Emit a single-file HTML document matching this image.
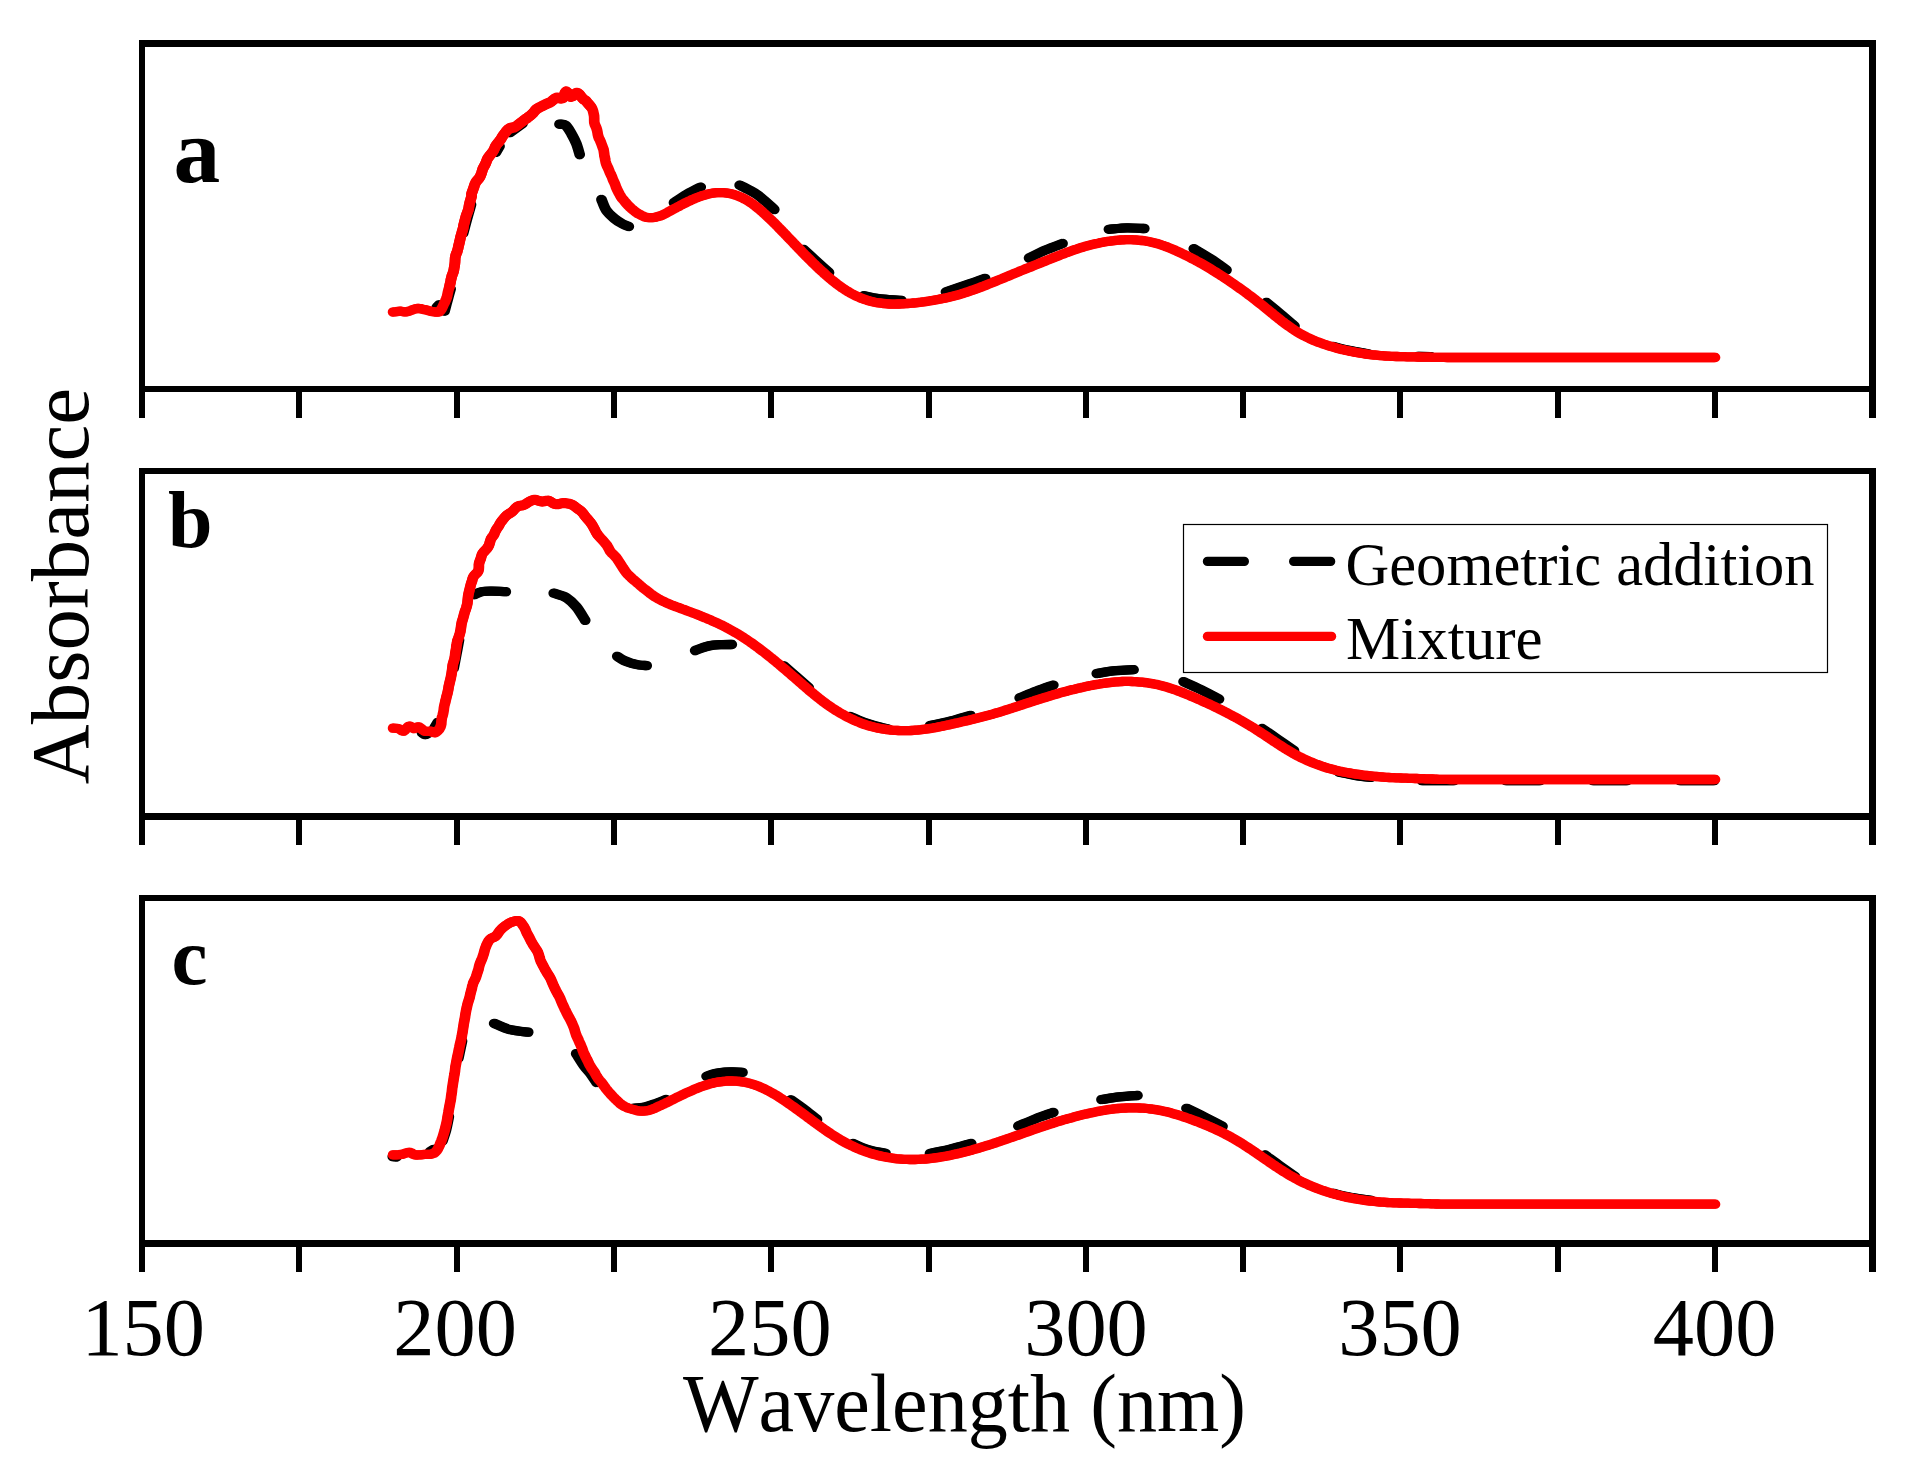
<!DOCTYPE html><html><head><meta charset="utf-8"><title>Absorbance spectra</title><style>html,body{margin:0;padding:0;background:#fff}svg{display:block}</style></head><body><svg width="1907" height="1468" viewBox="0 0 1907 1468"><rect width="1907" height="1468" fill="#fff"/><g fill="none" stroke-linecap="round" stroke-linejoin="round" stroke-width="9.3"><path stroke="#000" transform="translate(-0.7 0)" d="M559.5 124.2C560.5 124.4 563.5 123.8 565.5 125.3C567.5 126.8 569.4 130.2 571.2 133.3C573.0 136.4 574.9 140.1 576.3 143.6C577.7 147.1 579.1 152.7 579.7 154.5M601.5 199.5C602.3 201.3 604.1 207.2 606.3 210.4C608.5 213.6 611.8 216.3 614.5 218.6C617.2 220.9 620.3 222.7 622.7 224.0C625.1 225.3 627.8 226.1 628.8 226.5M674.0 202.6C676.1 201.2 682.0 197.1 686.5 194.5C691.0 191.9 698.3 188.3 700.7 187.1M739.7 185.2C741.3 186.0 746.5 188.5 749.4 190.1C752.3 191.7 754.6 192.9 757.3 194.8C760.0 196.7 762.7 199.1 765.5 201.5C768.3 203.9 772.8 208.2 774.3 209.5M803.5 249.4C805.6 251.3 811.8 257.1 816.0 261.0C820.2 264.9 826.8 270.7 829.0 272.6M864.0 295.7C865.8 296.1 871.2 297.4 875.0 298.0C878.8 298.6 882.4 299.0 886.8 299.4C891.2 299.8 899.0 300.2 901.5 300.4M946.0 291.8C949.2 290.8 958.5 287.7 965.0 285.5C971.5 283.3 981.8 279.6 985.1 278.4M1029.1 258.0C1031.8 256.7 1039.4 252.7 1045.0 250.3C1050.6 247.9 1059.6 244.6 1062.5 243.5M1108.9 229.3C1111.9 229.1 1121.1 227.9 1127.0 227.8C1132.9 227.7 1141.4 228.4 1144.3 228.5M1193.8 248.7C1196.5 250.4 1204.8 255.1 1210.3 258.7C1215.8 262.2 1223.8 268.1 1226.5 270.0M1266.5 302.5C1268.9 304.5 1276.3 310.6 1281.0 314.5C1285.7 318.4 1292.2 324.1 1294.5 326.0M1333.0 346.4C1335.6 347.1 1342.8 349.1 1348.8 350.4C1354.8 351.7 1365.6 353.4 1369.0 354.0M1418.0 356.5L1430.6 356.6M444.6 311.0C445.1 309.0 446.8 302.7 447.8 299.0C448.8 295.3 450.1 290.7 450.6 289.0M463.2 233.0C463.9 230.5 465.9 222.8 467.2 218.0C468.5 213.2 470.4 206.8 471.0 204.5M496.0 152.3L499.5 146.2M510.0 132.6C511.3 131.6 515.9 128.1 518.0 126.6C520.1 125.1 521.8 123.9 522.5 123.4M436.8 307.2L439.2 304.8"/><path stroke="#000" transform="translate(0.7 0)" d="M559.5 124.2C560.5 124.4 563.5 123.8 565.5 125.3C567.5 126.8 569.4 130.2 571.2 133.3C573.0 136.4 574.9 140.1 576.3 143.6C577.7 147.1 579.1 152.7 579.7 154.5M601.5 199.5C602.3 201.3 604.1 207.2 606.3 210.4C608.5 213.6 611.8 216.3 614.5 218.6C617.2 220.9 620.3 222.7 622.7 224.0C625.1 225.3 627.8 226.1 628.8 226.5M674.0 202.6C676.1 201.2 682.0 197.1 686.5 194.5C691.0 191.9 698.3 188.3 700.7 187.1M739.7 185.2C741.3 186.0 746.5 188.5 749.4 190.1C752.3 191.7 754.6 192.9 757.3 194.8C760.0 196.7 762.7 199.1 765.5 201.5C768.3 203.9 772.8 208.2 774.3 209.5M803.5 249.4C805.6 251.3 811.8 257.1 816.0 261.0C820.2 264.9 826.8 270.7 829.0 272.6M864.0 295.7C865.8 296.1 871.2 297.4 875.0 298.0C878.8 298.6 882.4 299.0 886.8 299.4C891.2 299.8 899.0 300.2 901.5 300.4M946.0 291.8C949.2 290.8 958.5 287.7 965.0 285.5C971.5 283.3 981.8 279.6 985.1 278.4M1029.1 258.0C1031.8 256.7 1039.4 252.7 1045.0 250.3C1050.6 247.9 1059.6 244.6 1062.5 243.5M1108.9 229.3C1111.9 229.1 1121.1 227.9 1127.0 227.8C1132.9 227.7 1141.4 228.4 1144.3 228.5M1193.8 248.7C1196.5 250.4 1204.8 255.1 1210.3 258.7C1215.8 262.2 1223.8 268.1 1226.5 270.0M1266.5 302.5C1268.9 304.5 1276.3 310.6 1281.0 314.5C1285.7 318.4 1292.2 324.1 1294.5 326.0M1333.0 346.4C1335.6 347.1 1342.8 349.1 1348.8 350.4C1354.8 351.7 1365.6 353.4 1369.0 354.0M1418.0 356.5L1430.6 356.6M444.6 311.0C445.1 309.0 446.8 302.7 447.8 299.0C448.8 295.3 450.1 290.7 450.6 289.0M463.2 233.0C463.9 230.5 465.9 222.8 467.2 218.0C468.5 213.2 470.4 206.8 471.0 204.5M496.0 152.3L499.5 146.2M510.0 132.6C511.3 131.6 515.9 128.1 518.0 126.6C520.1 125.1 521.8 123.9 522.5 123.4M436.8 307.2L439.2 304.8"/><path stroke="#ff0000" transform="translate(-0.7 0)" d="M393.1 312.0L394.4 311.8L396.4 311.6L398.5 311.3L400.4 311.2L402.4 311.5L404.3 311.9L406.7 311.8L408.6 311.3L410.8 310.5L413.0 309.6L415.2 308.9L417.2 308.5L419.2 308.5L421.0 308.7L422.7 309.2L424.5 309.6L426.6 310.1L428.8 310.7L430.9 311.3L432.9 311.6L435.2 312.0L437.3 312.2L439.2 311.7L440.4 310.6L441.5 309.0L442.5 307.1L443.5 304.9L444.2 303.4L445.0 301.8L445.8 300.1L446.5 298.3L447.1 296.4L447.5 294.4L447.9 292.3L448.4 290.3L449.0 288.2L449.6 286.1L450.1 283.9L450.6 281.7L450.9 279.8L451.4 277.9L451.9 275.9L452.6 274.0L453.3 272.1L453.8 270.2L454.1 268.2L454.5 266.1L454.8 264.0L455.0 261.9L455.1 259.8L455.2 257.7L455.7 255.5L456.3 253.7L457.1 251.9L457.6 250.0L458.1 248.1L458.5 246.1L459.0 244.1L459.5 242.1L459.9 240.3L460.3 238.5L460.7 236.6L461.3 234.8L461.8 232.9L462.3 231.0L462.9 229.2L463.3 227.3L463.6 225.4L464.1 223.5L464.6 221.5L465.1 219.6L465.6 217.7L466.1 215.9L466.7 214.2L467.3 212.6L468.1 210.6L468.6 208.7L468.9 206.9L469.2 205.1L469.6 203.3L470.1 201.4L470.6 199.7L471.1 197.9L471.6 196.1L471.5 194.1L472.1 192.2L472.8 190.3L473.5 188.3L474.1 186.6L474.7 184.7L475.5 182.9L476.5 181.2L477.8 179.7L479.1 178.2L480.1 176.6L480.8 175.0L481.6 172.8L482.2 170.8L482.8 168.8L483.8 166.9L484.9 165.0L485.8 163.1L486.5 161.2L487.3 159.1L488.5 157.2L489.9 155.4L491.3 153.7L492.5 152.1L493.5 150.6L494.5 148.5L495.1 147.0L495.9 145.6L497.3 143.7L498.4 142.5L499.5 141.0L500.7 139.4L501.8 137.6L502.9 135.7L504.2 134.0L505.4 132.5L506.5 131.0L508.1 129.4L509.9 128.2L512.0 127.7L514.0 127.3L515.7 126.5L517.1 125.5L519.1 124.0L520.7 122.8L522.5 121.4L523.9 120.3L525.5 119.1L527.2 118.0L528.8 116.7L530.4 115.5L532.1 114.0L533.7 112.4L535.0 110.6L536.5 109.1L538.2 108.1L539.9 107.2L541.5 106.3L543.3 105.5L544.9 104.7L546.6 103.9L548.4 103.1L550.1 102.3L551.5 101.4L553.3 99.9L554.9 98.6L556.9 97.8L559.1 98.0L561.1 98.4L563.2 97.8L564.3 95.6L564.9 93.0L566.1 91.5L567.7 92.6L568.9 95.0L570.8 96.7L573.0 96.0L574.6 94.2L576.3 93.1L578.1 93.4L579.7 94.7L581.1 96.5L582.4 98.2L583.8 99.5L585.5 100.5L586.9 102.0L588.2 103.7L589.4 105.0L590.7 106.5L591.9 108.1L592.7 110.0L593.3 112.1L593.7 114.0L594.1 116.0L594.2 118.1L594.2 120.3L594.3 122.5L594.9 124.6L595.7 126.4L596.5 128.3L597.1 130.3L597.5 132.3L597.8 134.4L598.3 136.4L599.0 138.3L600.0 140.2L600.8 142.1L601.5 144.0L602.2 145.9L602.9 147.8L603.6 149.7L603.9 151.7L604.2 153.7L604.4 155.8L604.9 157.7L605.2 159.7L605.6 161.7L606.1 163.6L606.8 165.5L607.7 167.2L608.5 169.0L609.2 170.7L609.9 172.5L610.7 174.2L611.5 175.8L612.2 177.5L612.9 179.5L613.8 181.4L614.6 183.2L615.4 185.1L616.0 187.0L616.8 188.8L617.8 190.8L618.8 192.8L619.8 194.7L620.8 196.5L622.0 198.2L623.3 199.7L624.5 201.2L625.7 202.6L627.0 204.1L628.4 205.7L629.8 207.0L631.3 208.4L632.9 209.8L634.6 211.1L636.2 212.4L637.9 213.5L639.7 214.4L641.4 215.3L643.2 216.2L645.0 217.0L646.9 217.4L648.8 217.6L650.6 217.7L652.5 217.6L654.3 217.4L656.1 217.1L658.0 216.6L659.8 216.1L661.6 215.4L663.4 214.6L665.2 213.7L667.0 212.7L668.9 211.6L670.8 210.6L672.5 209.7L674.3 208.7L676.1 207.8L677.9 206.8L679.8 205.8L681.6 204.8L683.4 203.9L685.2 203.0L687.0 202.1L688.8 201.2L690.6 200.4L692.4 199.5L694.2 198.8L696.0 198.0L697.8 197.3L699.6 196.7L701.4 196.0L703.1 195.4L704.9 194.9L706.7 194.4L708.5 194.0L710.6 193.5L712.7 193.2L714.8 192.9L716.9 192.7L719.0 192.6L721.1 192.6L723.2 192.7L725.3 192.8L727.4 193.1L729.5 193.5L731.6 193.9L733.7 194.5L735.5 195.1L737.3 195.7L739.2 196.5L741.0 197.3L742.8 198.1L744.6 199.0L746.3 199.9L747.9 200.9L749.5 201.9L751.0 202.9L752.6 203.9L754.1 205.1L755.7 206.3L757.3 207.6L758.8 208.8L760.3 210.1L761.9 211.4L763.5 212.9L765.1 214.3L766.7 215.8L768.3 217.3L769.9 218.8L771.3 220.1L772.7 221.5L774.1 222.9L775.5 224.3L776.9 225.7L778.3 227.2L779.7 228.6L781.1 230.0L782.5 231.5L783.9 232.9L785.3 234.4L786.7 235.8L788.1 237.3L789.5 238.8L790.9 240.2L792.3 241.7L793.7 243.2L795.1 244.6L796.5 246.1L797.9 247.5L799.3 249.0L800.7 250.4L802.0 251.8L803.4 253.3L804.8 254.7L806.2 256.1L807.6 257.5L809.0 258.9L810.4 260.3L811.8 261.7L813.2 263.1L814.6 264.4L816.0 265.8L817.4 267.1L818.8 268.5L820.2 269.8L821.8 271.2L823.4 272.6L824.9 274.1L826.5 275.5L828.1 276.8L829.6 278.2L831.2 279.5L832.8 280.8L834.4 282.0L835.9 283.3L837.5 284.5L839.1 285.6L840.7 286.8L842.2 287.9L843.8 288.9L845.4 290.0L847.2 291.1L849.0 292.1L850.8 293.2L852.6 294.2L854.4 295.1L856.2 296.0L858.0 296.8L859.8 297.6L861.6 298.3L863.4 299.0L865.2 299.6L867.0 300.2L868.8 300.7L870.6 301.2L872.7 301.7L874.8 302.2L876.9 302.6L879.0 302.9L881.1 303.2L883.2 303.5L885.3 303.7L887.3 303.9L889.2 304.0L891.3 304.1L893.4 304.1L895.7 304.1L897.5 304.0L899.4 304.0L901.4 303.9L903.4 303.8L905.4 303.7L907.5 303.5L909.5 303.3L911.5 303.2L913.5 303.0L915.4 302.8L917.4 302.6L919.4 302.3L921.3 302.1L923.3 301.8L925.2 301.6L927.2 301.3L929.2 301.0L931.1 300.7L933.1 300.4L935.0 300.0L937.0 299.7L939.0 299.3L940.9 298.9L942.9 298.5L944.9 298.1L946.8 297.7L948.8 297.2L950.8 296.7L952.8 296.2L954.8 295.7L956.7 295.2L958.7 294.7L960.7 294.1L962.6 293.5L964.6 292.9L966.6 292.2L968.5 291.6L970.5 290.9L972.4 290.2L974.4 289.6L976.4 288.8L978.3 288.1L980.3 287.4L982.2 286.6L984.2 285.9L986.2 285.1L988.1 284.3L990.1 283.5L992.1 282.7L994.0 281.9L996.0 281.1L997.9 280.3L999.9 279.5L1001.9 278.7L1003.8 277.9L1005.8 277.0L1007.6 276.3L1009.3 275.6L1011.1 274.9L1012.8 274.1L1014.6 273.4L1016.3 272.7L1018.1 272.0L1019.8 271.2L1021.6 270.5L1023.6 269.7L1025.5 268.9L1027.5 268.1L1029.5 267.4L1031.4 266.6L1033.4 265.8L1035.3 265.0L1037.3 264.2L1039.3 263.4L1041.2 262.6L1043.2 261.8L1045.1 261.1L1047.1 260.3L1049.1 259.5L1051.0 258.7L1053.0 257.9L1055.0 257.1L1056.9 256.4L1058.9 255.6L1060.9 254.8L1062.9 254.0L1064.9 253.3L1066.8 252.5L1068.8 251.8L1070.8 251.1L1072.7 250.4L1074.7 249.7L1076.7 249.1L1078.6 248.4L1080.6 247.8L1082.5 247.2L1084.5 246.6L1086.5 246.1L1088.4 245.5L1090.4 245.0L1092.3 244.5L1094.3 244.0L1096.3 243.6L1098.2 243.2L1100.2 242.7L1102.2 242.4L1104.1 242.0L1106.1 241.7L1108.1 241.3L1110.1 241.1L1112.1 240.8L1114.0 240.6L1116.0 240.3L1118.0 240.2L1119.9 240.0L1121.9 239.9L1123.9 239.8L1125.8 239.7L1127.8 239.7L1129.7 239.7L1131.7 239.7L1133.7 239.8L1135.7 239.9L1137.6 240.1L1139.6 240.3L1141.6 240.5L1143.6 240.7L1145.5 241.0L1147.4 241.3L1149.5 241.7L1151.6 242.2L1153.7 242.7L1155.8 243.2L1157.8 243.8L1159.8 244.4L1161.8 245.1L1163.8 245.7L1165.7 246.5L1167.7 247.2L1169.6 248.0L1171.5 248.8L1173.5 249.6L1175.4 250.4L1177.1 251.2L1178.8 252.0L1180.5 252.8L1182.2 253.6L1184.0 254.4L1185.7 255.3L1187.4 256.1L1189.1 257.0L1190.8 257.9L1192.5 258.8L1194.2 259.6L1195.9 260.6L1197.6 261.5L1199.3 262.4L1201.0 263.3L1202.7 264.3L1204.4 265.3L1206.1 266.3L1207.8 267.3L1209.5 268.3L1211.2 269.3L1212.9 270.4L1214.6 271.4L1216.3 272.5L1218.0 273.6L1219.7 274.7L1221.4 275.8L1223.2 276.9L1224.9 278.0L1226.6 279.2L1228.3 280.3L1230.0 281.5L1231.7 282.7L1233.4 283.8L1235.1 285.0L1236.8 286.2L1238.5 287.4L1240.2 288.6L1241.9 289.8L1243.6 291.0L1245.1 292.1L1246.6 293.2L1248.1 294.4L1249.6 295.5L1251.1 296.6L1252.7 297.8L1254.2 298.9L1255.7 300.1L1257.2 301.3L1258.7 302.5L1260.2 303.7L1261.8 304.9L1263.3 306.1L1264.8 307.4L1266.3 308.6L1267.9 309.9L1269.4 311.1L1270.9 312.3L1272.4 313.5L1273.9 314.8L1275.4 316.0L1277.0 317.2L1278.5 318.5L1280.0 319.7L1281.5 320.9L1283.0 322.0L1284.5 323.2L1286.2 324.4L1287.9 325.6L1289.6 326.8L1291.3 328.0L1293.0 329.2L1294.7 330.3L1296.4 331.4L1298.1 332.4L1299.8 333.4L1301.5 334.4L1303.2 335.3L1304.9 336.2L1306.7 337.1L1308.4 337.9L1310.1 338.7L1311.8 339.5L1313.8 340.4L1315.8 341.2L1317.7 342.0L1319.7 342.7L1321.7 343.4L1323.6 344.1L1325.4 344.7L1327.4 345.4L1329.4 346.0L1331.3 346.6L1333.2 347.1L1335.1 347.6L1337.0 348.2L1338.9 348.7L1340.8 349.2L1342.6 349.6L1344.6 350.1L1346.6 350.5L1348.8 351.0L1350.6 351.4L1352.5 351.7L1354.4 352.1L1356.4 352.5L1358.4 352.8L1360.5 353.2L1362.5 353.5L1364.5 353.8L1366.5 354.1L1368.4 354.3L1370.4 354.6L1372.3 354.8L1374.3 355.0L1376.3 355.2L1378.2 355.4L1380.2 355.6L1382.1 355.7L1383.8 355.9L1385.4 356.0L1387.1 356.1L1388.9 356.2L1391.0 356.3L1393.3 356.4L1396.0 356.5L1397.5 356.5L1399.2 356.6L1400.9 356.6L1402.7 356.7L1404.6 356.7L1406.6 356.8L1408.6 356.8L1410.6 356.8L1412.7 356.9L1414.9 356.9L1417.0 357.0L1419.1 357.0L1421.2 357.1L1423.3 357.1L1425.4 357.1L1427.4 357.2L1429.2 357.2L1430.7 357.2L1431.9 357.3L1432.9 357.3L1433.9 357.3L1434.8 357.3L1435.8 357.4L1436.9 357.4L1438.2 357.4L1439.9 357.4L1441.8 357.4L1444.3 357.4L1447.2 357.5L1450.8 357.5L1455.0 357.5L1460.0 357.5L1461.3 357.5L1462.6 357.5L1463.9 357.5L1465.3 357.5L1466.8 357.5L1468.2 357.5L1469.8 357.5L1471.3 357.5L1472.9 357.5L1474.6 357.5L1476.3 357.5L1478.0 357.5L1479.7 357.5L1481.5 357.5L1483.3 357.5L1485.2 357.5L1487.1 357.5L1489.0 357.5L1490.9 357.5L1492.9 357.5L1494.9 357.5L1496.9 357.5L1499.0 357.5L1501.0 357.5L1503.1 357.5L1505.2 357.5L1507.3 357.5L1509.5 357.5L1511.6 357.5L1513.8 357.5L1516.0 357.5L1518.2 357.5L1520.4 357.5L1522.6 357.5L1524.8 357.5L1527.1 357.5L1529.3 357.5L1531.6 357.5L1533.9 357.5L1536.1 357.5L1538.4 357.5L1540.6 357.5L1542.9 357.5L1545.2 357.5L1547.4 357.5L1549.7 357.5L1552.0 357.5L1554.2 357.5L1556.5 357.5L1558.7 357.5L1560.9 357.5L1563.1 357.5L1565.3 357.5L1567.5 357.5L1569.7 357.5L1571.9 357.5L1574.0 357.5L1576.2 357.5L1578.3 357.5L1580.4 357.5L1582.4 357.5L1584.5 357.5L1586.5 357.5L1588.5 357.5L1590.5 357.5L1592.5 357.5L1594.4 357.5L1596.3 357.5L1598.2 357.5L1600.0 357.5L1602.2 357.5L1604.4 357.5L1606.7 357.5L1608.9 357.5L1611.2 357.5L1613.5 357.5L1615.8 357.5L1618.1 357.5L1620.4 357.5L1622.7 357.5L1625.0 357.5L1627.4 357.5L1629.7 357.5L1632.0 357.5L1634.4 357.5L1636.7 357.5L1639.0 357.5L1641.4 357.5L1643.7 357.5L1646.0 357.5L1648.3 357.5L1650.6 357.5L1652.9 357.5L1655.1 357.5L1657.4 357.5L1659.6 357.5L1661.9 357.5L1664.1 357.5L1666.2 357.5L1668.4 357.5L1670.6 357.5L1672.7 357.5L1674.8 357.5L1676.8 357.5L1678.9 357.5L1680.9 357.5L1682.9 357.5L1684.8 357.5L1686.7 357.5L1688.6 357.5L1690.5 357.5L1692.3 357.5L1694.1 357.5L1695.8 357.5L1697.5 357.5L1699.1 357.5L1700.7 357.5L1702.3 357.5L1703.8 357.5L1705.2 357.5L1706.6 357.5L1708.0 357.5L1709.3 357.5L1710.6 357.5L1711.8 357.5L1712.9 357.5L1714.0 357.5L1715.0 357.5"/><path stroke="#ff0000" transform="translate(0.7 0)" d="M393.1 312.0L394.4 311.8L396.4 311.6L398.5 311.3L400.4 311.2L402.4 311.5L404.3 311.9L406.7 311.8L408.6 311.3L410.8 310.5L413.0 309.6L415.2 308.9L417.2 308.5L419.2 308.5L421.0 308.7L422.7 309.2L424.5 309.6L426.6 310.1L428.8 310.7L430.9 311.3L432.9 311.6L435.2 312.0L437.3 312.2L439.2 311.7L440.4 310.6L441.5 309.0L442.5 307.1L443.5 304.9L444.2 303.4L445.0 301.8L445.8 300.1L446.5 298.3L447.1 296.4L447.5 294.4L447.9 292.3L448.4 290.3L449.0 288.2L449.6 286.1L450.1 283.9L450.6 281.7L450.9 279.8L451.4 277.9L451.9 275.9L452.6 274.0L453.3 272.1L453.8 270.2L454.1 268.2L454.5 266.1L454.8 264.0L455.0 261.9L455.1 259.8L455.2 257.7L455.7 255.5L456.3 253.7L457.1 251.9L457.6 250.0L458.1 248.1L458.5 246.1L459.0 244.1L459.5 242.1L459.9 240.3L460.3 238.5L460.7 236.6L461.3 234.8L461.8 232.9L462.3 231.0L462.9 229.2L463.3 227.3L463.6 225.4L464.1 223.5L464.6 221.5L465.1 219.6L465.6 217.7L466.1 215.9L466.7 214.2L467.3 212.6L468.1 210.6L468.6 208.7L468.9 206.9L469.2 205.1L469.6 203.3L470.1 201.4L470.6 199.7L471.1 197.9L471.6 196.1L471.5 194.1L472.1 192.2L472.8 190.3L473.5 188.3L474.1 186.6L474.7 184.7L475.5 182.9L476.5 181.2L477.8 179.7L479.1 178.2L480.1 176.6L480.8 175.0L481.6 172.8L482.2 170.8L482.8 168.8L483.8 166.9L484.9 165.0L485.8 163.1L486.5 161.2L487.3 159.1L488.5 157.2L489.9 155.4L491.3 153.7L492.5 152.1L493.5 150.6L494.5 148.5L495.1 147.0L495.9 145.6L497.3 143.7L498.4 142.5L499.5 141.0L500.7 139.4L501.8 137.6L502.9 135.7L504.2 134.0L505.4 132.5L506.5 131.0L508.1 129.4L509.9 128.2L512.0 127.7L514.0 127.3L515.7 126.5L517.1 125.5L519.1 124.0L520.7 122.8L522.5 121.4L523.9 120.3L525.5 119.1L527.2 118.0L528.8 116.7L530.4 115.5L532.1 114.0L533.7 112.4L535.0 110.6L536.5 109.1L538.2 108.1L539.9 107.2L541.5 106.3L543.3 105.5L544.9 104.7L546.6 103.9L548.4 103.1L550.1 102.3L551.5 101.4L553.3 99.9L554.9 98.6L556.9 97.8L559.1 98.0L561.1 98.4L563.2 97.8L564.3 95.6L564.9 93.0L566.1 91.5L567.7 92.6L568.9 95.0L570.8 96.7L573.0 96.0L574.6 94.2L576.3 93.1L578.1 93.4L579.7 94.7L581.1 96.5L582.4 98.2L583.8 99.5L585.5 100.5L586.9 102.0L588.2 103.7L589.4 105.0L590.7 106.5L591.9 108.1L592.7 110.0L593.3 112.1L593.7 114.0L594.1 116.0L594.2 118.1L594.2 120.3L594.3 122.5L594.9 124.6L595.7 126.4L596.5 128.3L597.1 130.3L597.5 132.3L597.8 134.4L598.3 136.4L599.0 138.3L600.0 140.2L600.8 142.1L601.5 144.0L602.2 145.9L602.9 147.8L603.6 149.7L603.9 151.7L604.2 153.7L604.4 155.8L604.9 157.7L605.2 159.7L605.6 161.7L606.1 163.6L606.8 165.5L607.7 167.2L608.5 169.0L609.2 170.7L609.9 172.5L610.7 174.2L611.5 175.8L612.2 177.5L612.9 179.5L613.8 181.4L614.6 183.2L615.4 185.1L616.0 187.0L616.8 188.8L617.8 190.8L618.8 192.8L619.8 194.7L620.8 196.5L622.0 198.2L623.3 199.7L624.5 201.2L625.7 202.6L627.0 204.1L628.4 205.7L629.8 207.0L631.3 208.4L632.9 209.8L634.6 211.1L636.2 212.4L637.9 213.5L639.7 214.4L641.4 215.3L643.2 216.2L645.0 217.0L646.9 217.4L648.8 217.6L650.6 217.7L652.5 217.6L654.3 217.4L656.1 217.1L658.0 216.6L659.8 216.1L661.6 215.4L663.4 214.6L665.2 213.7L667.0 212.7L668.9 211.6L670.8 210.6L672.5 209.7L674.3 208.7L676.1 207.8L677.9 206.8L679.8 205.8L681.6 204.8L683.4 203.9L685.2 203.0L687.0 202.1L688.8 201.2L690.6 200.4L692.4 199.5L694.2 198.8L696.0 198.0L697.8 197.3L699.6 196.7L701.4 196.0L703.1 195.4L704.9 194.9L706.7 194.4L708.5 194.0L710.6 193.5L712.7 193.2L714.8 192.9L716.9 192.7L719.0 192.6L721.1 192.6L723.2 192.7L725.3 192.8L727.4 193.1L729.5 193.5L731.6 193.9L733.7 194.5L735.5 195.1L737.3 195.7L739.2 196.5L741.0 197.3L742.8 198.1L744.6 199.0L746.3 199.9L747.9 200.9L749.5 201.9L751.0 202.9L752.6 203.9L754.1 205.1L755.7 206.3L757.3 207.6L758.8 208.8L760.3 210.1L761.9 211.4L763.5 212.9L765.1 214.3L766.7 215.8L768.3 217.3L769.9 218.8L771.3 220.1L772.7 221.5L774.1 222.9L775.5 224.3L776.9 225.7L778.3 227.2L779.7 228.6L781.1 230.0L782.5 231.5L783.9 232.9L785.3 234.4L786.7 235.8L788.1 237.3L789.5 238.8L790.9 240.2L792.3 241.7L793.7 243.2L795.1 244.6L796.5 246.1L797.9 247.5L799.3 249.0L800.7 250.4L802.0 251.8L803.4 253.3L804.8 254.7L806.2 256.1L807.6 257.5L809.0 258.9L810.4 260.3L811.8 261.7L813.2 263.1L814.6 264.4L816.0 265.8L817.4 267.1L818.8 268.5L820.2 269.8L821.8 271.2L823.4 272.6L824.9 274.1L826.5 275.5L828.1 276.8L829.6 278.2L831.2 279.5L832.8 280.8L834.4 282.0L835.9 283.3L837.5 284.5L839.1 285.6L840.7 286.8L842.2 287.9L843.8 288.9L845.4 290.0L847.2 291.1L849.0 292.1L850.8 293.2L852.6 294.2L854.4 295.1L856.2 296.0L858.0 296.8L859.8 297.6L861.6 298.3L863.4 299.0L865.2 299.6L867.0 300.2L868.8 300.7L870.6 301.2L872.7 301.7L874.8 302.2L876.9 302.6L879.0 302.9L881.1 303.2L883.2 303.5L885.3 303.7L887.3 303.9L889.2 304.0L891.3 304.1L893.4 304.1L895.7 304.1L897.5 304.0L899.4 304.0L901.4 303.9L903.4 303.8L905.4 303.7L907.5 303.5L909.5 303.3L911.5 303.2L913.5 303.0L915.4 302.8L917.4 302.6L919.4 302.3L921.3 302.1L923.3 301.8L925.2 301.6L927.2 301.3L929.2 301.0L931.1 300.7L933.1 300.4L935.0 300.0L937.0 299.7L939.0 299.3L940.9 298.9L942.9 298.5L944.9 298.1L946.8 297.7L948.8 297.2L950.8 296.7L952.8 296.2L954.8 295.7L956.7 295.2L958.7 294.7L960.7 294.1L962.6 293.5L964.6 292.9L966.6 292.2L968.5 291.6L970.5 290.9L972.4 290.2L974.4 289.6L976.4 288.8L978.3 288.1L980.3 287.4L982.2 286.6L984.2 285.9L986.2 285.1L988.1 284.3L990.1 283.5L992.1 282.7L994.0 281.9L996.0 281.1L997.9 280.3L999.9 279.5L1001.9 278.7L1003.8 277.9L1005.8 277.0L1007.6 276.3L1009.3 275.6L1011.1 274.9L1012.8 274.1L1014.6 273.4L1016.3 272.7L1018.1 272.0L1019.8 271.2L1021.6 270.5L1023.6 269.7L1025.5 268.9L1027.5 268.1L1029.5 267.4L1031.4 266.6L1033.4 265.8L1035.3 265.0L1037.3 264.2L1039.3 263.4L1041.2 262.6L1043.2 261.8L1045.1 261.1L1047.1 260.3L1049.1 259.5L1051.0 258.7L1053.0 257.9L1055.0 257.1L1056.9 256.4L1058.9 255.6L1060.9 254.8L1062.9 254.0L1064.9 253.3L1066.8 252.5L1068.8 251.8L1070.8 251.1L1072.7 250.4L1074.7 249.7L1076.7 249.1L1078.6 248.4L1080.6 247.8L1082.5 247.2L1084.5 246.6L1086.5 246.1L1088.4 245.5L1090.4 245.0L1092.3 244.5L1094.3 244.0L1096.3 243.6L1098.2 243.2L1100.2 242.7L1102.2 242.4L1104.1 242.0L1106.1 241.7L1108.1 241.3L1110.1 241.1L1112.1 240.8L1114.0 240.6L1116.0 240.3L1118.0 240.2L1119.9 240.0L1121.9 239.9L1123.9 239.8L1125.8 239.7L1127.8 239.7L1129.7 239.7L1131.7 239.7L1133.7 239.8L1135.7 239.9L1137.6 240.1L1139.6 240.3L1141.6 240.5L1143.6 240.7L1145.5 241.0L1147.4 241.3L1149.5 241.7L1151.6 242.2L1153.7 242.7L1155.8 243.2L1157.8 243.8L1159.8 244.4L1161.8 245.1L1163.8 245.7L1165.7 246.5L1167.7 247.2L1169.6 248.0L1171.5 248.8L1173.5 249.6L1175.4 250.4L1177.1 251.2L1178.8 252.0L1180.5 252.8L1182.2 253.6L1184.0 254.4L1185.7 255.3L1187.4 256.1L1189.1 257.0L1190.8 257.9L1192.5 258.8L1194.2 259.6L1195.9 260.6L1197.6 261.5L1199.3 262.4L1201.0 263.3L1202.7 264.3L1204.4 265.3L1206.1 266.3L1207.8 267.3L1209.5 268.3L1211.2 269.3L1212.9 270.4L1214.6 271.4L1216.3 272.5L1218.0 273.6L1219.7 274.7L1221.4 275.8L1223.2 276.9L1224.9 278.0L1226.6 279.2L1228.3 280.3L1230.0 281.5L1231.7 282.7L1233.4 283.8L1235.1 285.0L1236.8 286.2L1238.5 287.4L1240.2 288.6L1241.9 289.8L1243.6 291.0L1245.1 292.1L1246.6 293.2L1248.1 294.4L1249.6 295.5L1251.1 296.6L1252.7 297.8L1254.2 298.9L1255.7 300.1L1257.2 301.3L1258.7 302.5L1260.2 303.7L1261.8 304.9L1263.3 306.1L1264.8 307.4L1266.3 308.6L1267.9 309.9L1269.4 311.1L1270.9 312.3L1272.4 313.5L1273.9 314.8L1275.4 316.0L1277.0 317.2L1278.5 318.5L1280.0 319.7L1281.5 320.9L1283.0 322.0L1284.5 323.2L1286.2 324.4L1287.9 325.6L1289.6 326.8L1291.3 328.0L1293.0 329.2L1294.7 330.3L1296.4 331.4L1298.1 332.4L1299.8 333.4L1301.5 334.4L1303.2 335.3L1304.9 336.2L1306.7 337.1L1308.4 337.9L1310.1 338.7L1311.8 339.5L1313.8 340.4L1315.8 341.2L1317.7 342.0L1319.7 342.7L1321.7 343.4L1323.6 344.1L1325.4 344.7L1327.4 345.4L1329.4 346.0L1331.3 346.6L1333.2 347.1L1335.1 347.6L1337.0 348.2L1338.9 348.7L1340.8 349.2L1342.6 349.6L1344.6 350.1L1346.6 350.5L1348.8 351.0L1350.6 351.4L1352.5 351.7L1354.4 352.1L1356.4 352.5L1358.4 352.8L1360.5 353.2L1362.5 353.5L1364.5 353.8L1366.5 354.1L1368.4 354.3L1370.4 354.6L1372.3 354.8L1374.3 355.0L1376.3 355.2L1378.2 355.4L1380.2 355.6L1382.1 355.7L1383.8 355.9L1385.4 356.0L1387.1 356.1L1388.9 356.2L1391.0 356.3L1393.3 356.4L1396.0 356.5L1397.5 356.5L1399.2 356.6L1400.9 356.6L1402.7 356.7L1404.6 356.7L1406.6 356.8L1408.6 356.8L1410.6 356.8L1412.7 356.9L1414.9 356.9L1417.0 357.0L1419.1 357.0L1421.2 357.1L1423.3 357.1L1425.4 357.1L1427.4 357.2L1429.2 357.2L1430.7 357.2L1431.9 357.3L1432.9 357.3L1433.9 357.3L1434.8 357.3L1435.8 357.4L1436.9 357.4L1438.2 357.4L1439.9 357.4L1441.8 357.4L1444.3 357.4L1447.2 357.5L1450.8 357.5L1455.0 357.5L1460.0 357.5L1461.3 357.5L1462.6 357.5L1463.9 357.5L1465.3 357.5L1466.8 357.5L1468.2 357.5L1469.8 357.5L1471.3 357.5L1472.9 357.5L1474.6 357.5L1476.3 357.5L1478.0 357.5L1479.7 357.5L1481.5 357.5L1483.3 357.5L1485.2 357.5L1487.1 357.5L1489.0 357.5L1490.9 357.5L1492.9 357.5L1494.9 357.5L1496.9 357.5L1499.0 357.5L1501.0 357.5L1503.1 357.5L1505.2 357.5L1507.3 357.5L1509.5 357.5L1511.6 357.5L1513.8 357.5L1516.0 357.5L1518.2 357.5L1520.4 357.5L1522.6 357.5L1524.8 357.5L1527.1 357.5L1529.3 357.5L1531.6 357.5L1533.9 357.5L1536.1 357.5L1538.4 357.5L1540.6 357.5L1542.9 357.5L1545.2 357.5L1547.4 357.5L1549.7 357.5L1552.0 357.5L1554.2 357.5L1556.5 357.5L1558.7 357.5L1560.9 357.5L1563.1 357.5L1565.3 357.5L1567.5 357.5L1569.7 357.5L1571.9 357.5L1574.0 357.5L1576.2 357.5L1578.3 357.5L1580.4 357.5L1582.4 357.5L1584.5 357.5L1586.5 357.5L1588.5 357.5L1590.5 357.5L1592.5 357.5L1594.4 357.5L1596.3 357.5L1598.2 357.5L1600.0 357.5L1602.2 357.5L1604.4 357.5L1606.7 357.5L1608.9 357.5L1611.2 357.5L1613.5 357.5L1615.8 357.5L1618.1 357.5L1620.4 357.5L1622.7 357.5L1625.0 357.5L1627.4 357.5L1629.7 357.5L1632.0 357.5L1634.4 357.5L1636.7 357.5L1639.0 357.5L1641.4 357.5L1643.7 357.5L1646.0 357.5L1648.3 357.5L1650.6 357.5L1652.9 357.5L1655.1 357.5L1657.4 357.5L1659.6 357.5L1661.9 357.5L1664.1 357.5L1666.2 357.5L1668.4 357.5L1670.6 357.5L1672.7 357.5L1674.8 357.5L1676.8 357.5L1678.9 357.5L1680.9 357.5L1682.9 357.5L1684.8 357.5L1686.7 357.5L1688.6 357.5L1690.5 357.5L1692.3 357.5L1694.1 357.5L1695.8 357.5L1697.5 357.5L1699.1 357.5L1700.7 357.5L1702.3 357.5L1703.8 357.5L1705.2 357.5L1706.6 357.5L1708.0 357.5L1709.3 357.5L1710.6 357.5L1711.8 357.5L1712.9 357.5L1714.0 357.5L1715.0 357.5"/><path stroke="#ff0000" stroke-width="10.7" d="M449.6 286.1L450.1 283.9L450.6 281.7L450.9 279.8L451.4 277.9L451.9 275.9L452.6 274.0L453.3 272.1L453.8 270.2L454.1 268.2L454.5 266.1L454.8 264.0L455.0 261.9L455.1 259.8L455.2 257.7L455.7 255.5L456.3 253.7L457.1 251.9L457.6 250.0L458.1 248.1L458.5 246.1L459.0 244.1L459.5 242.1L459.9 240.3L460.3 238.5L460.7 236.6L461.3 234.8L461.8 232.9L462.3 231.0L462.9 229.2L463.3 227.3L463.6 225.4L464.1 223.5L464.6 221.5L465.1 219.6L465.6 217.7L466.1 215.9L466.7 214.2L467.3 212.6L468.1 210.6L468.6 208.7L468.9 206.9L469.2 205.1L469.6 203.3L470.1 201.4L470.6 199.7L471.1 197.9L471.6 196.1L471.5 194.1L472.1 192.2L472.8 190.3L473.5 188.3L474.1 186.6L474.7 184.7L475.5 182.9L476.5 181.2L477.8 179.7L479.1 178.2L480.1 176.6L480.8 175.0L481.6 172.8L482.2 170.8L482.8 168.8L483.8 166.9L484.9 165.0L485.8 163.1L486.5 161.2L487.3 159.1L488.5 157.2L489.9 155.4L491.3 153.7L492.5 152.1L493.5 150.6L494.5 148.5L495.1 147.0L495.9 145.6L497.3 143.7L498.4 142.5L499.5 141.0L500.7 139.4L501.8 137.6L502.9 135.7L504.2 134.0L505.4 132.5L506.5 131.0L508.1 129.4L509.9 128.2L512.0 127.7L514.0 127.3L515.7 126.5L517.1 125.5L519.1 124.0L520.7 122.8L522.5 121.4L523.9 120.3L525.5 119.1L527.2 118.0L528.8 116.7L530.4 115.5L532.1 114.0L533.7 112.4L535.0 110.6L536.5 109.1L538.2 108.1L539.9 107.2L541.5 106.3L543.3 105.5L544.9 104.7L546.6 103.9L548.4 103.1L550.1 102.3L551.5 101.4L553.3 99.9L554.9 98.6L556.9 97.8L559.1 98.0L561.1 98.4L563.2 97.8L564.3 95.6L564.9 93.0L566.1 91.5L567.7 92.6L568.9 95.0L570.8 96.7L573.0 96.0L574.6 94.2L576.3 93.1L578.1 93.4L579.7 94.7L581.1 96.5L582.4 98.2L583.8 99.5L585.5 100.5L586.9 102.0L588.2 103.7L589.4 105.0L590.7 106.5"/></g><g fill="none" stroke-linecap="round" stroke-linejoin="round" stroke-width="9.3"><path stroke="#000" transform="translate(-0.7 0)" d="M474.3 594.6C475.5 594.1 478.6 592.3 481.5 591.7C484.4 591.1 487.9 591.2 492.0 591.2C496.1 591.2 503.5 591.6 505.8 591.7M553.8 593.2C556.0 594.0 563.0 595.6 566.8 597.9C570.5 600.2 573.2 603.0 576.3 606.8C579.4 610.5 583.7 618.1 585.2 620.4M617.3 656.3C618.4 657.0 621.6 659.3 624.0 660.5C626.4 661.7 629.0 662.5 631.5 663.3C634.0 664.0 636.5 664.6 639.0 665.0C641.5 665.4 645.4 665.5 646.7 665.6M695.2 650.5C696.7 650.0 701.0 648.1 704.0 647.2C707.0 646.3 710.3 645.5 713.3 645.1C716.3 644.7 718.9 644.7 722.0 644.6C725.1 644.5 730.2 644.5 731.8 644.5M783.7 665.8C785.8 667.6 792.1 673.1 796.3 676.8C800.5 680.5 806.7 686.0 808.8 687.8M850.0 716.5C852.3 717.5 859.7 720.7 864.0 722.3C868.3 723.9 872.0 724.9 876.0 726.0C880.0 727.1 886.0 728.5 888.0 729.0M930.0 725.5C933.5 724.8 944.0 722.7 950.8 721.0C957.5 719.3 967.2 716.3 970.5 715.4M1019.7 697.9C1022.5 696.8 1030.9 693.2 1036.5 691.1C1042.1 689.0 1050.5 686.1 1053.3 685.1M1096.8 673.5C1100.0 673.0 1109.9 671.3 1116.0 670.7C1122.1 670.1 1130.7 669.9 1133.6 669.7M1183.6 681.7C1186.5 683.0 1195.0 686.7 1200.9 689.6C1206.8 692.5 1216.0 697.4 1219.0 699.0M1262.0 728.5C1264.7 730.3 1272.7 735.8 1278.0 739.5C1283.3 743.2 1291.3 748.7 1294.0 750.5M1339.0 772.2C1341.7 772.7 1349.7 774.4 1355.0 775.3C1360.3 776.1 1368.3 777.0 1371.0 777.3M1422.0 780.7L1454.0 780.7M1506.0 780.7L1540.0 780.7M1593.0 780.7L1627.0 780.7M1680.0 780.7L1714.0 780.7M422.0 732.6C422.5 732.9 424.0 734.5 425.0 734.6C426.0 734.7 427.5 733.6 428.0 733.4M434.6 727.6L437.6 722.6M459.0 640.0C458.6 642.3 457.3 649.3 456.4 654.0C455.5 658.7 454.1 665.7 453.7 668.0"/><path stroke="#000" transform="translate(0.7 0)" d="M474.3 594.6C475.5 594.1 478.6 592.3 481.5 591.7C484.4 591.1 487.9 591.2 492.0 591.2C496.1 591.2 503.5 591.6 505.8 591.7M553.8 593.2C556.0 594.0 563.0 595.6 566.8 597.9C570.5 600.2 573.2 603.0 576.3 606.8C579.4 610.5 583.7 618.1 585.2 620.4M617.3 656.3C618.4 657.0 621.6 659.3 624.0 660.5C626.4 661.7 629.0 662.5 631.5 663.3C634.0 664.0 636.5 664.6 639.0 665.0C641.5 665.4 645.4 665.5 646.7 665.6M695.2 650.5C696.7 650.0 701.0 648.1 704.0 647.2C707.0 646.3 710.3 645.5 713.3 645.1C716.3 644.7 718.9 644.7 722.0 644.6C725.1 644.5 730.2 644.5 731.8 644.5M783.7 665.8C785.8 667.6 792.1 673.1 796.3 676.8C800.5 680.5 806.7 686.0 808.8 687.8M850.0 716.5C852.3 717.5 859.7 720.7 864.0 722.3C868.3 723.9 872.0 724.9 876.0 726.0C880.0 727.1 886.0 728.5 888.0 729.0M930.0 725.5C933.5 724.8 944.0 722.7 950.8 721.0C957.5 719.3 967.2 716.3 970.5 715.4M1019.7 697.9C1022.5 696.8 1030.9 693.2 1036.5 691.1C1042.1 689.0 1050.5 686.1 1053.3 685.1M1096.8 673.5C1100.0 673.0 1109.9 671.3 1116.0 670.7C1122.1 670.1 1130.7 669.9 1133.6 669.7M1183.6 681.7C1186.5 683.0 1195.0 686.7 1200.9 689.6C1206.8 692.5 1216.0 697.4 1219.0 699.0M1262.0 728.5C1264.7 730.3 1272.7 735.8 1278.0 739.5C1283.3 743.2 1291.3 748.7 1294.0 750.5M1339.0 772.2C1341.7 772.7 1349.7 774.4 1355.0 775.3C1360.3 776.1 1368.3 777.0 1371.0 777.3M1422.0 780.7L1454.0 780.7M1506.0 780.7L1540.0 780.7M1593.0 780.7L1627.0 780.7M1680.0 780.7L1714.0 780.7M422.0 732.6C422.5 732.9 424.0 734.5 425.0 734.6C426.0 734.7 427.5 733.6 428.0 733.4M434.6 727.6L437.6 722.6M459.0 640.0C458.6 642.3 457.3 649.3 456.4 654.0C455.5 658.7 454.1 665.7 453.7 668.0"/><path stroke="#ff0000" transform="translate(-0.7 0)" d="M393.1 728.1L394.4 728.2L396.4 728.3L398.3 728.5L400.1 729.5L401.8 730.7L403.6 731.1L404.9 730.2L406.4 728.5L407.9 726.9L409.3 726.1L410.9 726.5L412.4 727.8L414.0 728.6L415.5 728.1L417.1 727.2L418.8 726.9L420.2 727.7L421.6 728.9L423.1 730.2L424.5 731.1L426.6 731.4L428.8 731.3L430.8 731.2L433.0 732.4L435.0 732.8L436.3 732.0L437.8 730.7L439.2 729.1L440.4 727.0L440.9 725.5L441.3 723.7L441.4 721.8L441.6 719.8L441.9 717.7L442.6 715.5L443.0 713.9L443.4 712.1L443.7 710.3L443.9 708.3L444.2 706.4L444.6 704.5L445.1 702.7L445.5 700.8L446.0 699.0L446.4 697.1L446.9 695.3L447.4 693.5L447.8 691.7L448.2 689.8L448.5 688.0L448.8 686.1L449.3 684.0L449.8 681.9L450.3 679.9L450.8 677.8L451.2 675.7L451.6 673.6L451.9 671.5L452.2 669.5L452.4 667.6L452.6 665.7L453.0 663.8L453.6 661.9L454.2 659.9L454.7 657.8L455.0 656.0L455.2 654.1L455.5 652.0L455.9 649.9L456.2 647.8L456.4 645.8L456.8 643.9L457.1 642.3L457.3 640.9L458.1 638.9L458.9 636.7L459.3 635.4L459.8 633.7L460.3 631.8L460.7 629.7L461.0 627.5L461.3 625.2L461.7 623.0L462.2 621.0L462.8 619.2L463.4 617.0L464.0 614.9L464.5 612.9L465.1 611.0L465.8 609.2L466.4 607.3L466.9 605.5L467.4 603.3L467.6 601.3L467.8 599.2L468.0 597.2L468.3 595.2L468.7 593.2L469.2 591.2L469.7 589.1L470.2 587.1L470.7 585.0L471.3 583.0L472.1 580.9L472.5 579.1L473.2 577.2L474.2 575.6L475.6 574.1L477.2 572.6L478.3 570.9L478.8 568.8L478.9 566.8L478.9 564.8L479.2 562.8L479.9 560.8L480.7 558.8L481.2 557.0L481.7 555.3L482.3 553.9L483.4 552.3L484.6 551.1L485.7 549.9L486.9 548.6L488.0 547.0L489.0 545.2L489.7 543.0L490.3 540.8L491.0 538.8L492.1 537.2L493.4 535.5L494.3 534.0L494.8 532.5L495.7 530.7L496.5 529.2L497.6 527.6L498.8 525.9L499.8 523.9L500.9 522.1L502.2 520.5L503.5 518.9L504.7 517.4L506.1 515.9L507.6 514.7L509.3 513.6L510.9 512.7L512.6 511.3L514.0 509.8L515.4 508.2L516.9 506.9L518.7 506.0L520.7 505.6L522.7 505.4L524.4 504.7L525.9 503.8L527.4 502.9L529.1 501.7L531.0 500.8L532.8 500.1L534.7 499.8L536.6 500.1L538.5 500.7L540.4 501.3L542.2 501.6L544.3 501.3L546.4 500.7L548.4 500.6L550.2 501.4L552.1 502.7L554.3 503.9L556.4 504.3L558.5 504.1L560.6 503.5L562.7 503.1L564.8 503.1L566.9 503.4L569.0 503.7L571.0 504.3L572.8 505.1L574.4 506.2L575.9 507.4L577.6 508.7L579.1 509.7L580.6 510.8L582.1 512.2L583.4 513.7L584.5 515.4L585.8 517.0L587.2 518.6L588.6 520.2L590.0 521.9L591.3 523.6L592.3 525.1L593.2 526.7L594.1 528.4L595.0 530.0L595.8 531.7L596.7 533.3L597.9 535.0L599.3 536.6L600.7 538.2L602.2 539.7L603.6 541.4L604.9 542.8L606.1 544.3L607.3 545.9L608.3 547.7L609.2 549.5L610.1 551.1L611.4 552.8L612.9 554.2L614.4 555.6L615.9 557.2L617.3 559.0L618.3 560.6L619.4 562.3L620.5 564.0L621.7 565.8L622.8 567.6L624.0 569.4L625.1 571.0L626.3 572.6L627.5 574.1L628.9 575.4L630.2 576.7L631.6 578.0L633.0 579.3L634.5 580.5L636.0 581.8L637.6 583.2L639.2 584.5L640.8 585.9L642.4 587.3L644.0 588.6L645.6 589.8L647.2 591.0L648.8 592.2L650.2 593.5L651.8 594.6L653.3 595.7L654.9 596.8L656.6 597.8L658.3 598.8L660.1 599.7L661.9 600.7L663.7 601.5L665.6 602.4L667.4 603.2L669.2 604.0L671.0 604.8L672.8 605.5L674.6 606.1L676.4 606.8L678.2 607.4L680.0 608.1L681.8 608.8L683.6 609.4L685.4 610.1L687.2 610.8L689.0 611.5L690.8 612.2L692.6 612.8L694.4 613.5L696.2 614.2L698.0 614.9L699.8 615.6L701.6 616.4L703.4 617.1L705.2 617.8L707.0 618.6L708.8 619.3L710.6 620.1L712.4 620.9L714.2 621.7L716.0 622.5L717.8 623.3L719.6 624.2L721.4 625.0L723.2 625.9L725.0 626.8L726.7 627.8L728.5 628.7L730.3 629.7L732.1 630.7L733.9 631.7L735.7 632.8L737.5 633.8L739.3 634.9L741.1 636.0L742.9 637.2L744.7 638.4L746.3 639.4L747.9 640.5L749.4 641.5L751.0 642.6L752.6 643.7L754.1 644.9L755.7 646.0L757.3 647.1L758.9 648.3L760.4 649.5L762.0 650.7L763.6 651.9L765.2 653.1L766.8 654.4L768.3 655.6L769.9 656.9L771.5 658.1L773.0 659.4L774.6 660.7L776.2 662.0L777.8 663.3L779.3 664.6L780.9 666.0L782.5 667.3L784.1 668.6L785.7 669.9L787.2 671.3L788.8 672.7L790.4 674.0L792.0 675.4L793.5 676.7L795.1 678.1L796.7 679.5L798.2 680.8L799.8 682.2L801.4 683.6L802.9 684.9L804.5 686.3L806.0 687.6L807.6 688.9L809.1 690.3L810.7 691.6L812.2 692.8L813.7 694.1L815.3 695.4L816.8 696.6L818.4 697.9L820.0 699.1L821.6 700.4L823.3 701.7L825.0 702.9L826.7 704.2L828.4 705.4L830.2 706.6L831.9 707.8L833.6 708.9L835.3 710.0L837.0 711.1L838.7 712.1L840.4 713.2L842.2 714.1L843.9 715.1L845.6 716.1L847.3 717.0L849.2 717.9L851.2 718.9L853.1 719.8L855.1 720.7L857.0 721.5L859.0 722.3L860.9 723.1L862.8 723.8L864.8 724.5L866.7 725.1L868.7 725.7L870.6 726.3L872.6 726.8L874.5 727.3L876.5 727.7L878.4 728.2L880.4 728.5L882.3 728.9L884.3 729.2L886.2 729.5L888.2 729.7L890.1 730.0L892.1 730.2L894.0 730.3L896.0 730.4L897.9 730.5L899.9 730.6L901.8 730.7L903.7 730.7L905.7 730.7L907.6 730.6L909.6 730.6L911.5 730.5L913.5 730.4L915.4 730.2L917.4 730.1L919.3 729.9L921.3 729.7L923.2 729.4L925.2 729.2L927.1 728.9L929.1 728.6L931.0 728.3L933.0 728.0L934.9 727.6L936.9 727.3L938.8 726.9L940.8 726.5L942.7 726.1L944.6 725.7L946.6 725.3L948.5 724.9L950.5 724.4L952.4 724.0L954.4 723.6L956.3 723.1L958.3 722.7L960.2 722.2L962.2 721.8L964.1 721.3L966.1 720.9L968.0 720.4L970.0 719.9L971.9 719.5L973.9 719.0L975.8 718.5L977.8 718.0L979.7 717.5L981.7 717.0L983.6 716.5L985.5 716.0L987.5 715.5L989.4 715.0L991.4 714.4L993.3 713.9L995.3 713.3L997.2 712.7L999.2 712.2L1001.1 711.6L1003.1 711.0L1005.0 710.3L1007.0 709.7L1008.9 709.1L1010.9 708.5L1012.8 707.9L1014.8 707.2L1016.7 706.6L1018.7 706.0L1020.6 705.3L1022.6 704.7L1024.5 704.0L1026.4 703.4L1028.4 702.8L1030.3 702.1L1032.3 701.5L1034.2 700.9L1036.2 700.2L1038.1 699.6L1040.1 699.0L1042.0 698.4L1044.0 697.8L1045.9 697.2L1047.9 696.6L1049.8 696.0L1051.8 695.4L1053.7 694.8L1055.7 694.2L1057.6 693.7L1059.5 693.1L1061.4 692.6L1063.4 692.1L1065.4 691.5L1067.2 691.1L1069.0 690.6L1070.8 690.1L1072.7 689.6L1074.6 689.2L1076.4 688.7L1078.2 688.3L1080.0 687.9L1082.0 687.4L1084.0 687.0L1085.9 686.5L1087.8 686.1L1089.7 685.7L1091.7 685.4L1093.6 685.0L1095.6 684.6L1097.5 684.3L1099.5 684.0L1101.5 683.6L1103.5 683.4L1105.4 683.1L1107.3 682.8L1109.5 682.6L1111.6 682.3L1113.8 682.1L1115.9 681.9L1117.9 681.8L1120.0 681.6L1122.0 681.5L1123.8 681.4L1125.7 681.4L1127.6 681.4L1129.6 681.4L1131.8 681.5L1133.6 681.6L1135.6 681.7L1137.7 681.9L1139.9 682.1L1142.1 682.2L1144.2 682.5L1146.3 682.7L1148.2 683.0L1150.3 683.3L1152.3 683.6L1154.2 684.0L1156.1 684.3L1158.0 684.8L1159.9 685.2L1161.8 685.7L1163.7 686.2L1165.7 686.8L1167.6 687.3L1169.6 688.0L1171.5 688.6L1173.5 689.3L1175.4 689.9L1177.4 690.6L1179.3 691.4L1181.3 692.1L1183.2 692.9L1185.2 693.7L1187.1 694.5L1189.1 695.3L1191.0 696.1L1193.0 696.9L1194.9 697.8L1196.9 698.6L1198.8 699.5L1200.8 700.3L1202.7 701.2L1204.4 702.0L1206.1 702.8L1207.8 703.5L1209.5 704.3L1211.2 705.1L1212.9 705.9L1214.6 706.7L1216.3 707.6L1218.0 708.4L1219.7 709.2L1221.4 710.1L1223.2 710.9L1224.9 711.8L1226.6 712.7L1228.3 713.6L1230.0 714.5L1231.7 715.4L1233.4 716.3L1235.1 717.2L1236.8 718.1L1238.5 719.1L1240.2 720.0L1241.9 721.0L1243.6 722.0L1245.3 723.0L1247.0 724.0L1248.7 725.0L1250.4 726.0L1252.1 727.1L1253.8 728.1L1255.5 729.2L1257.2 730.3L1258.9 731.4L1260.6 732.5L1262.3 733.6L1264.0 734.7L1265.8 735.9L1267.5 737.0L1269.2 738.2L1270.9 739.3L1272.6 740.4L1274.3 741.6L1276.0 742.7L1277.7 743.8L1279.4 744.9L1281.1 746.0L1282.8 747.1L1284.5 748.2L1286.2 749.2L1287.9 750.3L1289.6 751.3L1291.3 752.3L1293.0 753.3L1294.7 754.2L1296.4 755.2L1298.1 756.1L1299.8 756.9L1301.5 757.8L1303.2 758.6L1304.9 759.4L1306.7 760.2L1308.4 761.0L1310.1 761.7L1311.8 762.4L1313.8 763.2L1315.8 764.0L1317.7 764.7L1319.7 765.4L1321.7 766.1L1323.6 766.7L1325.4 767.3L1327.4 768.0L1329.4 768.6L1331.3 769.1L1333.2 769.6L1335.1 770.1L1337.0 770.5L1338.9 771.0L1340.8 771.4L1342.6 771.8L1344.6 772.2L1346.6 772.5L1348.8 772.9L1350.6 773.2L1352.5 773.5L1354.4 773.8L1356.4 774.2L1358.4 774.4L1360.5 774.7L1362.5 775.0L1364.5 775.3L1366.5 775.5L1368.4 775.7L1370.4 775.9L1372.3 776.1L1374.3 776.3L1376.3 776.5L1378.2 776.7L1380.2 776.9L1382.1 777.0L1383.8 777.1L1385.4 777.3L1387.1 777.4L1388.9 777.5L1391.0 777.6L1393.3 777.7L1396.0 777.8L1397.5 777.9L1399.2 777.9L1400.9 778.0L1402.7 778.1L1404.6 778.1L1406.6 778.2L1408.6 778.3L1410.6 778.3L1412.7 778.4L1414.9 778.5L1417.0 778.5L1419.1 778.6L1421.2 778.7L1423.3 778.7L1425.4 778.8L1427.4 778.8L1429.2 778.9L1430.7 778.9L1431.9 779.0L1432.9 779.0L1433.9 779.1L1434.8 779.1L1435.8 779.2L1436.9 779.2L1438.2 779.3L1439.9 779.3L1441.8 779.4L1444.3 779.4L1447.2 779.4L1450.8 779.5L1455.0 779.5L1460.0 779.5L1461.3 779.5L1462.6 779.5L1463.9 779.5L1465.3 779.5L1466.8 779.5L1468.2 779.5L1469.8 779.5L1471.3 779.5L1472.9 779.5L1474.6 779.5L1476.3 779.5L1478.0 779.5L1479.7 779.5L1481.5 779.5L1483.3 779.5L1485.2 779.5L1487.1 779.5L1489.0 779.5L1490.9 779.5L1492.9 779.5L1494.9 779.5L1496.9 779.5L1499.0 779.5L1501.0 779.5L1503.1 779.5L1505.2 779.5L1507.3 779.5L1509.5 779.5L1511.6 779.5L1513.8 779.5L1516.0 779.5L1518.2 779.5L1520.4 779.5L1522.6 779.5L1524.8 779.5L1527.1 779.5L1529.3 779.5L1531.6 779.5L1533.9 779.5L1536.1 779.5L1538.4 779.5L1540.6 779.5L1542.9 779.5L1545.2 779.5L1547.4 779.5L1549.7 779.5L1552.0 779.5L1554.2 779.5L1556.5 779.5L1558.7 779.5L1560.9 779.5L1563.1 779.5L1565.3 779.5L1567.5 779.5L1569.7 779.5L1571.9 779.5L1574.0 779.5L1576.2 779.5L1578.3 779.5L1580.4 779.5L1582.4 779.5L1584.5 779.5L1586.5 779.5L1588.5 779.5L1590.5 779.5L1592.5 779.5L1594.4 779.5L1596.3 779.5L1598.2 779.5L1600.0 779.5L1602.2 779.5L1604.4 779.5L1606.7 779.5L1608.9 779.5L1611.2 779.5L1613.5 779.5L1615.8 779.5L1618.1 779.5L1620.4 779.5L1622.7 779.5L1625.0 779.5L1627.4 779.5L1629.7 779.5L1632.0 779.5L1634.4 779.5L1636.7 779.5L1639.0 779.5L1641.4 779.5L1643.7 779.5L1646.0 779.5L1648.3 779.5L1650.6 779.5L1652.9 779.5L1655.1 779.5L1657.4 779.5L1659.6 779.5L1661.9 779.5L1664.1 779.5L1666.2 779.5L1668.4 779.5L1670.6 779.5L1672.7 779.5L1674.8 779.5L1676.8 779.5L1678.9 779.5L1680.9 779.5L1682.9 779.5L1684.8 779.5L1686.7 779.5L1688.6 779.5L1690.5 779.5L1692.3 779.5L1694.1 779.5L1695.8 779.5L1697.5 779.5L1699.1 779.5L1700.7 779.5L1702.3 779.5L1703.8 779.5L1705.2 779.5L1706.6 779.5L1708.0 779.5L1709.3 779.5L1710.6 779.5L1711.8 779.5L1712.9 779.5L1714.0 779.5L1715.0 779.5"/><path stroke="#ff0000" transform="translate(0.7 0)" d="M393.1 728.1L394.4 728.2L396.4 728.3L398.3 728.5L400.1 729.5L401.8 730.7L403.6 731.1L404.9 730.2L406.4 728.5L407.9 726.9L409.3 726.1L410.9 726.5L412.4 727.8L414.0 728.6L415.5 728.1L417.1 727.2L418.8 726.9L420.2 727.7L421.6 728.9L423.1 730.2L424.5 731.1L426.6 731.4L428.8 731.3L430.8 731.2L433.0 732.4L435.0 732.8L436.3 732.0L437.8 730.7L439.2 729.1L440.4 727.0L440.9 725.5L441.3 723.7L441.4 721.8L441.6 719.8L441.9 717.7L442.6 715.5L443.0 713.9L443.4 712.1L443.7 710.3L443.9 708.3L444.2 706.4L444.6 704.5L445.1 702.7L445.5 700.8L446.0 699.0L446.4 697.1L446.9 695.3L447.4 693.5L447.8 691.7L448.2 689.8L448.5 688.0L448.8 686.1L449.3 684.0L449.8 681.9L450.3 679.9L450.8 677.8L451.2 675.7L451.6 673.6L451.9 671.5L452.2 669.5L452.4 667.6L452.6 665.7L453.0 663.8L453.6 661.9L454.2 659.9L454.7 657.8L455.0 656.0L455.2 654.1L455.5 652.0L455.9 649.9L456.2 647.8L456.4 645.8L456.8 643.9L457.1 642.3L457.3 640.9L458.1 638.9L458.9 636.7L459.3 635.4L459.8 633.7L460.3 631.8L460.7 629.7L461.0 627.5L461.3 625.2L461.7 623.0L462.2 621.0L462.8 619.2L463.4 617.0L464.0 614.9L464.5 612.9L465.1 611.0L465.8 609.2L466.4 607.3L466.9 605.5L467.4 603.3L467.6 601.3L467.8 599.2L468.0 597.2L468.3 595.2L468.7 593.2L469.2 591.2L469.7 589.1L470.2 587.1L470.7 585.0L471.3 583.0L472.1 580.9L472.5 579.1L473.2 577.2L474.2 575.6L475.6 574.1L477.2 572.6L478.3 570.9L478.8 568.8L478.9 566.8L478.9 564.8L479.2 562.8L479.9 560.8L480.7 558.8L481.2 557.0L481.7 555.3L482.3 553.9L483.4 552.3L484.6 551.1L485.7 549.9L486.9 548.6L488.0 547.0L489.0 545.2L489.7 543.0L490.3 540.8L491.0 538.8L492.1 537.2L493.4 535.5L494.3 534.0L494.8 532.5L495.7 530.7L496.5 529.2L497.6 527.6L498.8 525.9L499.8 523.9L500.9 522.1L502.2 520.5L503.5 518.9L504.7 517.4L506.1 515.9L507.6 514.7L509.3 513.6L510.9 512.7L512.6 511.3L514.0 509.8L515.4 508.2L516.9 506.9L518.7 506.0L520.7 505.6L522.7 505.4L524.4 504.7L525.9 503.8L527.4 502.9L529.1 501.7L531.0 500.8L532.8 500.1L534.7 499.8L536.6 500.1L538.5 500.7L540.4 501.3L542.2 501.6L544.3 501.3L546.4 500.7L548.4 500.6L550.2 501.4L552.1 502.7L554.3 503.9L556.4 504.3L558.5 504.1L560.6 503.5L562.7 503.1L564.8 503.1L566.9 503.4L569.0 503.7L571.0 504.3L572.8 505.1L574.4 506.2L575.9 507.4L577.6 508.7L579.1 509.7L580.6 510.8L582.1 512.2L583.4 513.7L584.5 515.4L585.8 517.0L587.2 518.6L588.6 520.2L590.0 521.9L591.3 523.6L592.3 525.1L593.2 526.7L594.1 528.4L595.0 530.0L595.8 531.7L596.7 533.3L597.9 535.0L599.3 536.6L600.7 538.2L602.2 539.7L603.6 541.4L604.9 542.8L606.1 544.3L607.3 545.9L608.3 547.7L609.2 549.5L610.1 551.1L611.4 552.8L612.9 554.2L614.4 555.6L615.9 557.2L617.3 559.0L618.3 560.6L619.4 562.3L620.5 564.0L621.7 565.8L622.8 567.6L624.0 569.4L625.1 571.0L626.3 572.6L627.5 574.1L628.9 575.4L630.2 576.7L631.6 578.0L633.0 579.3L634.5 580.5L636.0 581.8L637.6 583.2L639.2 584.5L640.8 585.9L642.4 587.3L644.0 588.6L645.6 589.8L647.2 591.0L648.8 592.2L650.2 593.5L651.8 594.6L653.3 595.7L654.9 596.8L656.6 597.8L658.3 598.8L660.1 599.7L661.9 600.7L663.7 601.5L665.6 602.4L667.4 603.2L669.2 604.0L671.0 604.8L672.8 605.5L674.6 606.1L676.4 606.8L678.2 607.4L680.0 608.1L681.8 608.8L683.6 609.4L685.4 610.1L687.2 610.8L689.0 611.5L690.8 612.2L692.6 612.8L694.4 613.5L696.2 614.2L698.0 614.9L699.8 615.6L701.6 616.4L703.4 617.1L705.2 617.8L707.0 618.6L708.8 619.3L710.6 620.1L712.4 620.9L714.2 621.7L716.0 622.5L717.8 623.3L719.6 624.2L721.4 625.0L723.2 625.9L725.0 626.8L726.7 627.8L728.5 628.7L730.3 629.7L732.1 630.7L733.9 631.7L735.7 632.8L737.5 633.8L739.3 634.9L741.1 636.0L742.9 637.2L744.7 638.4L746.3 639.4L747.9 640.5L749.4 641.5L751.0 642.6L752.6 643.7L754.1 644.9L755.7 646.0L757.3 647.1L758.9 648.3L760.4 649.5L762.0 650.7L763.6 651.9L765.2 653.1L766.8 654.4L768.3 655.6L769.9 656.9L771.5 658.1L773.0 659.4L774.6 660.7L776.2 662.0L777.8 663.3L779.3 664.6L780.9 666.0L782.5 667.3L784.1 668.6L785.7 669.9L787.2 671.3L788.8 672.7L790.4 674.0L792.0 675.4L793.5 676.7L795.1 678.1L796.7 679.5L798.2 680.8L799.8 682.2L801.4 683.6L802.9 684.9L804.5 686.3L806.0 687.6L807.6 688.9L809.1 690.3L810.7 691.6L812.2 692.8L813.7 694.1L815.3 695.4L816.8 696.6L818.4 697.9L820.0 699.1L821.6 700.4L823.3 701.7L825.0 702.9L826.7 704.2L828.4 705.4L830.2 706.6L831.9 707.8L833.6 708.9L835.3 710.0L837.0 711.1L838.7 712.1L840.4 713.2L842.2 714.1L843.9 715.1L845.6 716.1L847.3 717.0L849.2 717.9L851.2 718.9L853.1 719.8L855.1 720.7L857.0 721.5L859.0 722.3L860.9 723.1L862.8 723.8L864.8 724.5L866.7 725.1L868.7 725.7L870.6 726.3L872.6 726.8L874.5 727.3L876.5 727.7L878.4 728.2L880.4 728.5L882.3 728.9L884.3 729.2L886.2 729.5L888.2 729.7L890.1 730.0L892.1 730.2L894.0 730.3L896.0 730.4L897.9 730.5L899.9 730.6L901.8 730.7L903.7 730.7L905.7 730.7L907.6 730.6L909.6 730.6L911.5 730.5L913.5 730.4L915.4 730.2L917.4 730.1L919.3 729.9L921.3 729.7L923.2 729.4L925.2 729.2L927.1 728.9L929.1 728.6L931.0 728.3L933.0 728.0L934.9 727.6L936.9 727.3L938.8 726.9L940.8 726.5L942.7 726.1L944.6 725.7L946.6 725.3L948.5 724.9L950.5 724.4L952.4 724.0L954.4 723.6L956.3 723.1L958.3 722.7L960.2 722.2L962.2 721.8L964.1 721.3L966.1 720.9L968.0 720.4L970.0 719.9L971.9 719.5L973.9 719.0L975.8 718.5L977.8 718.0L979.7 717.5L981.7 717.0L983.6 716.5L985.5 716.0L987.5 715.5L989.4 715.0L991.4 714.4L993.3 713.9L995.3 713.3L997.2 712.7L999.2 712.2L1001.1 711.6L1003.1 711.0L1005.0 710.3L1007.0 709.7L1008.9 709.1L1010.9 708.5L1012.8 707.9L1014.8 707.2L1016.7 706.6L1018.7 706.0L1020.6 705.3L1022.6 704.7L1024.5 704.0L1026.4 703.4L1028.4 702.8L1030.3 702.1L1032.3 701.5L1034.2 700.9L1036.2 700.2L1038.1 699.6L1040.1 699.0L1042.0 698.4L1044.0 697.8L1045.9 697.2L1047.9 696.6L1049.8 696.0L1051.8 695.4L1053.7 694.8L1055.7 694.2L1057.6 693.7L1059.5 693.1L1061.4 692.6L1063.4 692.1L1065.4 691.5L1067.2 691.1L1069.0 690.6L1070.8 690.1L1072.7 689.6L1074.6 689.2L1076.4 688.7L1078.2 688.3L1080.0 687.9L1082.0 687.4L1084.0 687.0L1085.9 686.5L1087.8 686.1L1089.7 685.7L1091.7 685.4L1093.6 685.0L1095.6 684.6L1097.5 684.3L1099.5 684.0L1101.5 683.6L1103.5 683.4L1105.4 683.1L1107.3 682.8L1109.5 682.6L1111.6 682.3L1113.8 682.1L1115.9 681.9L1117.9 681.8L1120.0 681.6L1122.0 681.5L1123.8 681.4L1125.7 681.4L1127.6 681.4L1129.6 681.4L1131.8 681.5L1133.6 681.6L1135.6 681.7L1137.7 681.9L1139.9 682.1L1142.1 682.2L1144.2 682.5L1146.3 682.7L1148.2 683.0L1150.3 683.3L1152.3 683.6L1154.2 684.0L1156.1 684.3L1158.0 684.8L1159.9 685.2L1161.8 685.7L1163.7 686.2L1165.7 686.8L1167.6 687.3L1169.6 688.0L1171.5 688.6L1173.5 689.3L1175.4 689.9L1177.4 690.6L1179.3 691.4L1181.3 692.1L1183.2 692.9L1185.2 693.7L1187.1 694.5L1189.1 695.3L1191.0 696.1L1193.0 696.9L1194.9 697.8L1196.9 698.6L1198.8 699.5L1200.8 700.3L1202.7 701.2L1204.4 702.0L1206.1 702.8L1207.8 703.5L1209.5 704.3L1211.2 705.1L1212.9 705.9L1214.6 706.7L1216.3 707.6L1218.0 708.4L1219.7 709.2L1221.4 710.1L1223.2 710.9L1224.9 711.8L1226.6 712.7L1228.3 713.6L1230.0 714.5L1231.7 715.4L1233.4 716.3L1235.1 717.2L1236.8 718.1L1238.5 719.1L1240.2 720.0L1241.9 721.0L1243.6 722.0L1245.3 723.0L1247.0 724.0L1248.7 725.0L1250.4 726.0L1252.1 727.1L1253.8 728.1L1255.5 729.2L1257.2 730.3L1258.9 731.4L1260.6 732.5L1262.3 733.6L1264.0 734.7L1265.8 735.9L1267.5 737.0L1269.2 738.2L1270.9 739.3L1272.6 740.4L1274.3 741.6L1276.0 742.7L1277.7 743.8L1279.4 744.9L1281.1 746.0L1282.8 747.1L1284.5 748.2L1286.2 749.2L1287.9 750.3L1289.6 751.3L1291.3 752.3L1293.0 753.3L1294.7 754.2L1296.4 755.2L1298.1 756.1L1299.8 756.9L1301.5 757.8L1303.2 758.6L1304.9 759.4L1306.7 760.2L1308.4 761.0L1310.1 761.7L1311.8 762.4L1313.8 763.2L1315.8 764.0L1317.7 764.7L1319.7 765.4L1321.7 766.1L1323.6 766.7L1325.4 767.3L1327.4 768.0L1329.4 768.6L1331.3 769.1L1333.2 769.6L1335.1 770.1L1337.0 770.5L1338.9 771.0L1340.8 771.4L1342.6 771.8L1344.6 772.2L1346.6 772.5L1348.8 772.9L1350.6 773.2L1352.5 773.5L1354.4 773.8L1356.4 774.2L1358.4 774.4L1360.5 774.7L1362.5 775.0L1364.5 775.3L1366.5 775.5L1368.4 775.7L1370.4 775.9L1372.3 776.1L1374.3 776.3L1376.3 776.5L1378.2 776.7L1380.2 776.9L1382.1 777.0L1383.8 777.1L1385.4 777.3L1387.1 777.4L1388.9 777.5L1391.0 777.6L1393.3 777.7L1396.0 777.8L1397.5 777.9L1399.2 777.9L1400.9 778.0L1402.7 778.1L1404.6 778.1L1406.6 778.2L1408.6 778.3L1410.6 778.3L1412.7 778.4L1414.9 778.5L1417.0 778.5L1419.1 778.6L1421.2 778.7L1423.3 778.7L1425.4 778.8L1427.4 778.8L1429.2 778.9L1430.7 778.9L1431.9 779.0L1432.9 779.0L1433.9 779.1L1434.8 779.1L1435.8 779.2L1436.9 779.2L1438.2 779.3L1439.9 779.3L1441.8 779.4L1444.3 779.4L1447.2 779.4L1450.8 779.5L1455.0 779.5L1460.0 779.5L1461.3 779.5L1462.6 779.5L1463.9 779.5L1465.3 779.5L1466.8 779.5L1468.2 779.5L1469.8 779.5L1471.3 779.5L1472.9 779.5L1474.6 779.5L1476.3 779.5L1478.0 779.5L1479.7 779.5L1481.5 779.5L1483.3 779.5L1485.2 779.5L1487.1 779.5L1489.0 779.5L1490.9 779.5L1492.9 779.5L1494.9 779.5L1496.9 779.5L1499.0 779.5L1501.0 779.5L1503.1 779.5L1505.2 779.5L1507.3 779.5L1509.5 779.5L1511.6 779.5L1513.8 779.5L1516.0 779.5L1518.2 779.5L1520.4 779.5L1522.6 779.5L1524.8 779.5L1527.1 779.5L1529.3 779.5L1531.6 779.5L1533.9 779.5L1536.1 779.5L1538.4 779.5L1540.6 779.5L1542.9 779.5L1545.2 779.5L1547.4 779.5L1549.7 779.5L1552.0 779.5L1554.2 779.5L1556.5 779.5L1558.7 779.5L1560.9 779.5L1563.1 779.5L1565.3 779.5L1567.5 779.5L1569.7 779.5L1571.9 779.5L1574.0 779.5L1576.2 779.5L1578.3 779.5L1580.4 779.5L1582.4 779.5L1584.5 779.5L1586.5 779.5L1588.5 779.5L1590.5 779.5L1592.5 779.5L1594.4 779.5L1596.3 779.5L1598.2 779.5L1600.0 779.5L1602.2 779.5L1604.4 779.5L1606.7 779.5L1608.9 779.5L1611.2 779.5L1613.5 779.5L1615.8 779.5L1618.1 779.5L1620.4 779.5L1622.7 779.5L1625.0 779.5L1627.4 779.5L1629.7 779.5L1632.0 779.5L1634.4 779.5L1636.7 779.5L1639.0 779.5L1641.4 779.5L1643.7 779.5L1646.0 779.5L1648.3 779.5L1650.6 779.5L1652.9 779.5L1655.1 779.5L1657.4 779.5L1659.6 779.5L1661.9 779.5L1664.1 779.5L1666.2 779.5L1668.4 779.5L1670.6 779.5L1672.7 779.5L1674.8 779.5L1676.8 779.5L1678.9 779.5L1680.9 779.5L1682.9 779.5L1684.8 779.5L1686.7 779.5L1688.6 779.5L1690.5 779.5L1692.3 779.5L1694.1 779.5L1695.8 779.5L1697.5 779.5L1699.1 779.5L1700.7 779.5L1702.3 779.5L1703.8 779.5L1705.2 779.5L1706.6 779.5L1708.0 779.5L1709.3 779.5L1710.6 779.5L1711.8 779.5L1712.9 779.5L1714.0 779.5L1715.0 779.5"/><path stroke="#ff0000" stroke-width="10.1" d="M445.1 702.7L445.5 700.8L446.0 699.0L446.4 697.1L446.9 695.3L447.4 693.5L447.8 691.7L448.2 689.8L448.5 688.0L448.8 686.1L449.3 684.0L449.8 681.9L450.3 679.9L450.8 677.8L451.2 675.7L451.6 673.6L451.9 671.5L452.2 669.5L452.4 667.6L452.6 665.7L453.0 663.8L453.6 661.9L454.2 659.9L454.7 657.8L455.0 656.0L455.2 654.1L455.5 652.0L455.9 649.9L456.2 647.8L456.4 645.8L456.8 643.9L457.1 642.3L457.3 640.9L458.1 638.9L458.9 636.7L459.3 635.4L459.8 633.7L460.3 631.8L460.7 629.7L461.0 627.5L461.3 625.2L461.7 623.0L462.2 621.0L462.8 619.2L463.4 617.0L464.0 614.9L464.5 612.9L465.1 611.0L465.8 609.2L466.4 607.3L466.9 605.5L467.4 603.3L467.6 601.3L467.8 599.2L468.0 597.2L468.3 595.2L468.7 593.2L469.2 591.2L469.7 589.1L470.2 587.1L470.7 585.0L471.3 583.0L472.1 580.9L472.5 579.1L473.2 577.2L474.2 575.6L475.6 574.1L477.2 572.6L478.3 570.9L478.8 568.8L478.9 566.8L478.9 564.8L479.2 562.8L479.9 560.8L480.7 558.8L481.2 557.0L481.7 555.3L482.3 553.9L483.4 552.3L484.6 551.1L485.7 549.9L486.9 548.6L488.0 547.0L489.0 545.2L489.7 543.0L490.3 540.8L491.0 538.8L492.1 537.2L493.4 535.5L494.3 534.0L494.8 532.5L495.7 530.7L496.5 529.2L497.6 527.6L498.8 525.9L499.8 523.9L500.9 522.1L502.2 520.5L503.5 518.9L504.7 517.4L506.1 515.9L507.6 514.7L509.3 513.6L510.9 512.7L512.6 511.3L514.0 509.8L515.4 508.2L516.9 506.9L518.7 506.0L520.7 505.6L522.7 505.4L524.4 504.7L525.9 503.8L527.4 502.9L529.1 501.7L531.0 500.8L532.8 500.1L534.7 499.8L536.6 500.1L538.5 500.7L540.4 501.3L542.2 501.6L544.3 501.3L546.4 500.7L548.4 500.6L550.2 501.4L552.1 502.7L554.3 503.9L556.4 504.3L558.5 504.1L560.6 503.5L562.7 503.1L564.8 503.1L566.9 503.4L569.0 503.7L571.0 504.3L572.8 505.1L574.4 506.2L575.9 507.4L577.6 508.7L579.1 509.7L580.6 510.8L582.1 512.2L583.4 513.7L584.5 515.4L585.8 517.0L587.2 518.6L588.6 520.2L590.0 521.9L591.3 523.6L592.3 525.1L593.2 526.7L594.1 528.4L595.0 530.0L595.8 531.7L596.7 533.3L597.9 535.0"/></g><g fill="none" stroke-linecap="round" stroke-linejoin="round" stroke-width="9.3"><path stroke="#000" transform="translate(-0.7 0)" d="M494.2 1023.4C496.8 1024.4 503.8 1028.0 509.5 1029.5C515.2 1031.0 525.1 1031.8 528.2 1032.2M576.2 1053.6C577.5 1055.5 581.1 1061.6 583.7 1065.2C586.3 1068.8 589.8 1072.5 591.9 1075.4C594.0 1078.3 595.7 1081.3 596.5 1082.5M632.0 1108.5C634.2 1108.2 641.0 1107.8 645.0 1107.0C649.0 1106.2 652.5 1104.8 656.0 1103.5C659.5 1102.2 664.3 1100.2 666.0 1099.5M706.6 1076.3C708.0 1075.8 712.0 1074.3 715.0 1073.6C718.0 1072.9 721.7 1072.5 724.7 1072.2C727.7 1071.9 730.0 1072.0 733.0 1072.0C736.0 1072.0 740.9 1072.3 742.5 1072.4M790.8 1099.8C793.2 1101.5 800.6 1106.7 805.0 1110.0C809.4 1113.3 815.0 1117.9 817.0 1119.5M853.0 1143.5C854.5 1144.2 858.8 1146.3 862.0 1147.5C865.2 1148.7 868.1 1149.7 872.0 1150.7C875.9 1151.7 883.2 1152.9 885.5 1153.3M930.0 1153.5C933.5 1152.7 943.9 1150.6 950.8 1148.9C957.7 1147.2 967.8 1144.3 971.2 1143.4M1018.4 1126.0C1021.3 1124.8 1029.9 1121.0 1035.7 1118.7C1041.5 1116.4 1050.4 1113.5 1053.3 1112.4M1101.5 1099.5C1104.4 1099.1 1113.1 1097.6 1119.1 1096.9C1125.1 1096.2 1134.4 1095.7 1137.5 1095.5M1186.5 1108.3C1189.7 1109.8 1199.6 1114.6 1205.6 1117.6C1211.6 1120.6 1219.7 1124.8 1222.5 1126.3M1265.0 1155.0C1267.5 1156.8 1275.0 1162.4 1280.0 1166.0C1285.0 1169.6 1292.5 1174.8 1295.0 1176.5M1333.0 1193.3C1335.7 1193.9 1342.7 1195.8 1349.0 1197.0C1355.3 1198.2 1367.3 1199.8 1371.0 1200.4M392.8 1156.6L396.5 1157.0M430.0 1151.8L434.0 1149.3M442.5 1141.0C443.1 1139.0 445.1 1133.3 446.2 1129.2C447.2 1125.1 448.4 1118.7 448.8 1116.6M458.4 1058.0L462.0 1041.0"/><path stroke="#000" transform="translate(0.7 0)" d="M494.2 1023.4C496.8 1024.4 503.8 1028.0 509.5 1029.5C515.2 1031.0 525.1 1031.8 528.2 1032.2M576.2 1053.6C577.5 1055.5 581.1 1061.6 583.7 1065.2C586.3 1068.8 589.8 1072.5 591.9 1075.4C594.0 1078.3 595.7 1081.3 596.5 1082.5M632.0 1108.5C634.2 1108.2 641.0 1107.8 645.0 1107.0C649.0 1106.2 652.5 1104.8 656.0 1103.5C659.5 1102.2 664.3 1100.2 666.0 1099.5M706.6 1076.3C708.0 1075.8 712.0 1074.3 715.0 1073.6C718.0 1072.9 721.7 1072.5 724.7 1072.2C727.7 1071.9 730.0 1072.0 733.0 1072.0C736.0 1072.0 740.9 1072.3 742.5 1072.4M790.8 1099.8C793.2 1101.5 800.6 1106.7 805.0 1110.0C809.4 1113.3 815.0 1117.9 817.0 1119.5M853.0 1143.5C854.5 1144.2 858.8 1146.3 862.0 1147.5C865.2 1148.7 868.1 1149.7 872.0 1150.7C875.9 1151.7 883.2 1152.9 885.5 1153.3M930.0 1153.5C933.5 1152.7 943.9 1150.6 950.8 1148.9C957.7 1147.2 967.8 1144.3 971.2 1143.4M1018.4 1126.0C1021.3 1124.8 1029.9 1121.0 1035.7 1118.7C1041.5 1116.4 1050.4 1113.5 1053.3 1112.4M1101.5 1099.5C1104.4 1099.1 1113.1 1097.6 1119.1 1096.9C1125.1 1096.2 1134.4 1095.7 1137.5 1095.5M1186.5 1108.3C1189.7 1109.8 1199.6 1114.6 1205.6 1117.6C1211.6 1120.6 1219.7 1124.8 1222.5 1126.3M1265.0 1155.0C1267.5 1156.8 1275.0 1162.4 1280.0 1166.0C1285.0 1169.6 1292.5 1174.8 1295.0 1176.5M1333.0 1193.3C1335.7 1193.9 1342.7 1195.8 1349.0 1197.0C1355.3 1198.2 1367.3 1199.8 1371.0 1200.4M392.8 1156.6L396.5 1157.0M430.0 1151.8L434.0 1149.3M442.5 1141.0C443.1 1139.0 445.1 1133.3 446.2 1129.2C447.2 1125.1 448.4 1118.7 448.8 1116.6M458.4 1058.0L462.0 1041.0"/><path stroke="#ff0000" transform="translate(-0.7 0)" d="M393.1 1154.9L394.6 1154.9L396.8 1154.8L399.2 1154.7L401.5 1154.4L403.5 1153.9L405.6 1153.2L407.5 1152.6L409.3 1152.3L411.3 1152.9L413.0 1154.1L415.1 1154.9L416.8 1155.0L418.7 1154.9L420.7 1154.8L422.7 1154.6L424.5 1154.4L426.5 1154.4L428.5 1154.4L430.3 1154.3L431.9 1153.9L433.9 1153.2L435.5 1152.0L437.1 1150.2L438.0 1148.7L438.8 1146.9L439.7 1145.0L440.5 1142.9L441.4 1140.8L442.0 1139.0L442.7 1137.1L443.3 1135.2L443.9 1133.2L444.5 1131.2L445.0 1129.2L445.5 1127.2L446.0 1125.2L446.5 1123.1L446.9 1121.0L447.3 1118.9L447.6 1116.6L448.0 1114.6L448.4 1112.5L448.7 1110.4L449.1 1108.3L449.5 1106.2L449.9 1104.1L450.3 1102.0L450.7 1100.0L451.0 1098.0L451.2 1096.1L451.5 1094.1L451.8 1092.2L452.0 1090.2L452.2 1088.3L452.5 1086.4L452.8 1084.5L453.1 1082.6L453.4 1080.7L453.7 1078.8L454.0 1076.8L454.4 1074.7L454.7 1072.8L455.0 1070.9L455.2 1068.9L455.4 1066.9L455.8 1064.8L456.2 1062.8L456.6 1060.7L457.0 1058.5L457.4 1056.5L457.9 1054.4L458.4 1052.2L458.8 1049.9L459.3 1047.7L459.7 1045.5L460.2 1043.5L460.6 1041.7L461.0 1040.0L461.5 1037.8L461.8 1036.2L462.0 1034.9L462.3 1033.3L462.7 1031.1L462.9 1029.5L463.2 1027.7L463.5 1025.8L463.8 1023.7L464.2 1021.6L464.6 1019.4L465.0 1017.3L465.3 1015.2L465.6 1013.3L466.0 1011.2L466.4 1009.2L466.9 1007.1L467.3 1005.2L467.8 1003.2L468.4 1001.3L469.0 999.4L469.6 997.5L470.0 995.6L470.4 993.8L470.9 991.9L471.4 990.0L471.9 988.2L472.2 986.4L472.8 984.6L473.3 982.8L474.2 980.9L475.2 979.0L476.0 977.0L476.6 975.1L477.2 973.1L477.9 971.2L478.5 969.3L478.9 967.3L479.4 965.4L480.0 963.5L480.7 961.7L481.5 960.0L482.2 958.3L482.8 956.5L483.5 954.5L484.1 952.4L484.6 950.3L485.2 948.4L485.9 946.6L486.5 945.0L487.7 942.6L488.8 940.7L490.2 939.1L491.9 938.0L493.7 937.3L495.4 936.4L497.0 934.8L498.3 932.9L499.7 930.9L500.9 929.6L502.1 928.3L503.5 927.2L504.9 926.1L506.4 925.0L507.9 924.0L509.5 923.0L511.2 922.2L513.1 921.6L515.1 921.0L517.0 920.7L518.8 920.9L520.6 922.1L521.9 923.8L523.3 925.9L524.3 927.4L525.2 929.1L526.0 931.1L526.8 933.0L527.8 934.8L528.7 936.4L529.5 938.0L530.4 939.7L531.2 941.4L532.2 943.1L533.2 944.9L534.4 946.7L535.6 948.5L536.9 950.4L537.9 952.2L538.6 954.2L539.2 956.1L539.7 958.0L540.3 959.9L541.0 961.7L542.0 963.6L543.0 965.5L544.0 967.4L545.0 969.3L546.1 971.2L547.2 973.1L548.4 974.9L549.6 976.8L550.6 978.7L551.5 980.7L552.3 982.6L553.1 984.5L553.9 986.3L554.8 988.2L555.7 990.1L556.7 991.9L557.7 993.8L558.8 995.7L559.8 997.6L560.6 999.6L561.4 1001.6L562.2 1003.5L563.1 1005.3L564.0 1007.2L564.8 1009.1L565.8 1011.0L566.7 1012.9L567.7 1014.9L568.7 1016.8L569.7 1018.6L570.6 1020.2L571.4 1021.8L572.1 1023.4L572.8 1025.0L573.6 1026.8L574.2 1028.4L574.7 1030.1L575.2 1031.9L575.8 1033.7L576.4 1035.6L577.3 1037.5L578.2 1039.2L578.9 1041.0L579.7 1042.9L580.6 1044.7L581.4 1046.7L582.2 1048.6L582.9 1050.6L583.5 1052.4L584.3 1054.1L585.1 1055.8L586.0 1057.5L586.9 1059.3L587.8 1061.0L588.6 1062.7L589.4 1064.4L590.4 1066.2L591.5 1068.0L592.7 1069.7L593.9 1071.4L595.0 1073.1L595.9 1074.9L596.9 1076.6L598.1 1078.5L599.5 1080.2L600.9 1081.8L602.3 1083.5L603.4 1085.1L604.6 1086.7L605.9 1088.6L607.3 1090.3L608.6 1091.9L610.0 1093.4L611.3 1094.9L612.7 1096.3L614.1 1097.8L615.4 1099.1L616.8 1100.4L618.1 1101.7L619.7 1103.2L621.4 1104.5L623.1 1105.6L624.9 1106.6L626.6 1107.4L628.3 1108.1L630.0 1108.6L631.7 1109.1L633.4 1109.6L635.2 1110.1L636.9 1110.6L638.6 1110.9L640.9 1111.1L643.2 1111.1L645.4 1110.9L647.4 1110.6L649.5 1110.2L652.0 1109.3L653.6 1108.7L655.4 1107.9L657.3 1107.0L659.3 1106.1L661.4 1105.2L663.4 1104.2L665.1 1103.4L666.9 1102.5L668.7 1101.6L670.5 1100.6L672.4 1099.7L674.2 1098.8L676.0 1097.9L677.8 1097.0L679.6 1096.2L681.4 1095.3L683.1 1094.5L684.9 1093.6L686.7 1092.8L688.5 1092.0L690.3 1091.2L692.1 1090.4L693.9 1089.6L695.7 1088.8L697.5 1088.1L699.3 1087.4L701.1 1086.7L702.9 1086.1L704.7 1085.5L706.4 1084.9L708.2 1084.4L710.0 1083.8L711.8 1083.4L713.7 1082.9L715.6 1082.5L717.6 1082.2L719.7 1081.9L721.7 1081.6L723.8 1081.3L725.9 1081.2L727.9 1081.0L729.9 1081.0L732.0 1081.0L734.0 1081.1L736.1 1081.2L738.1 1081.3L740.1 1081.5L742.0 1081.8L744.2 1082.1L746.3 1082.6L748.4 1083.0L750.5 1083.6L752.5 1084.2L754.6 1084.9L756.4 1085.5L758.2 1086.2L760.0 1086.9L761.8 1087.7L763.6 1088.5L765.4 1089.4L767.2 1090.3L769.0 1091.2L770.8 1092.2L772.6 1093.2L774.4 1094.3L776.2 1095.3L778.0 1096.4L779.8 1097.6L781.4 1098.6L782.9 1099.6L784.5 1100.6L786.1 1101.7L787.7 1102.8L789.2 1103.9L790.8 1105.0L792.4 1106.1L794.0 1107.2L795.6 1108.3L797.1 1109.5L798.7 1110.6L800.3 1111.8L801.9 1112.9L803.4 1114.1L805.0 1115.2L806.6 1116.4L808.1 1117.6L809.7 1118.7L811.2 1119.9L812.8 1121.0L814.4 1122.2L815.9 1123.3L817.5 1124.5L819.1 1125.6L820.6 1126.7L822.2 1127.9L823.8 1129.0L825.4 1130.1L826.9 1131.2L828.5 1132.3L830.1 1133.3L831.9 1134.5L833.7 1135.7L835.5 1136.8L837.3 1137.9L839.1 1139.0L840.9 1140.1L842.7 1141.1L844.5 1142.1L846.3 1143.1L848.1 1144.0L849.9 1144.9L851.7 1145.8L853.5 1146.6L855.3 1147.5L857.1 1148.3L858.9 1149.0L860.7 1149.8L862.5 1150.5L864.3 1151.2L866.1 1151.8L867.9 1152.4L869.9 1153.1L871.8 1153.7L873.8 1154.3L875.7 1154.8L877.8 1155.4L880.0 1155.9L881.8 1156.3L883.7 1156.7L885.6 1157.0L887.6 1157.4L889.6 1157.7L891.7 1158.0L893.7 1158.3L895.7 1158.6L897.7 1158.8L899.6 1159.0L901.6 1159.1L903.6 1159.3L905.6 1159.4L907.6 1159.4L909.5 1159.5L911.5 1159.5L913.5 1159.5L915.4 1159.5L917.4 1159.4L919.4 1159.4L921.3 1159.2L923.3 1159.1L925.2 1159.0L927.2 1158.8L929.2 1158.6L931.1 1158.4L933.1 1158.2L935.0 1157.9L937.0 1157.6L939.0 1157.3L940.9 1157.0L942.9 1156.7L944.9 1156.3L946.8 1156.0L948.8 1155.6L950.8 1155.2L952.8 1154.8L954.8 1154.3L956.7 1153.9L958.7 1153.4L960.7 1153.0L962.6 1152.5L964.6 1152.0L966.6 1151.5L968.5 1151.0L970.5 1150.4L972.4 1149.9L974.4 1149.3L976.4 1148.8L978.3 1148.2L980.3 1147.6L982.2 1147.0L984.2 1146.4L986.2 1145.8L988.1 1145.2L990.1 1144.6L992.1 1144.0L994.0 1143.3L996.0 1142.7L997.9 1142.0L999.9 1141.4L1001.9 1140.7L1003.8 1140.0L1005.8 1139.4L1007.8 1138.7L1009.7 1138.0L1011.7 1137.3L1013.7 1136.6L1015.7 1135.9L1017.7 1135.3L1019.6 1134.6L1021.6 1133.9L1023.6 1133.2L1025.5 1132.5L1027.5 1131.8L1029.5 1131.1L1031.4 1130.4L1033.4 1129.7L1035.3 1129.0L1037.3 1128.4L1039.3 1127.7L1041.2 1127.0L1043.2 1126.4L1045.1 1125.7L1047.1 1125.1L1049.1 1124.4L1051.0 1123.8L1053.0 1123.2L1055.0 1122.5L1056.9 1121.9L1058.9 1121.3L1060.9 1120.7L1062.9 1120.1L1064.9 1119.6L1066.8 1119.0L1068.8 1118.4L1070.8 1117.9L1072.7 1117.4L1074.7 1116.8L1076.7 1116.3L1078.6 1115.8L1080.6 1115.3L1082.5 1114.8L1084.5 1114.3L1086.5 1113.9L1088.4 1113.4L1090.4 1113.0L1092.3 1112.6L1094.3 1112.2L1096.3 1111.8L1098.2 1111.4L1100.2 1111.0L1102.2 1110.7L1104.1 1110.3L1106.1 1110.0L1108.1 1109.7L1110.1 1109.4L1112.1 1109.2L1114.0 1108.9L1116.0 1108.7L1118.0 1108.5L1119.9 1108.4L1121.9 1108.2L1123.9 1108.1L1125.8 1108.0L1127.8 1107.9L1129.7 1107.8L1131.7 1107.8L1133.7 1107.8L1135.7 1107.8L1137.6 1107.9L1139.6 1108.0L1141.6 1108.1L1143.6 1108.2L1145.5 1108.3L1147.4 1108.5L1149.5 1108.8L1151.6 1109.0L1153.7 1109.3L1155.8 1109.6L1157.8 1110.0L1159.8 1110.4L1161.8 1110.8L1163.8 1111.2L1165.7 1111.6L1167.7 1112.1L1169.6 1112.6L1171.5 1113.1L1173.5 1113.7L1175.4 1114.2L1177.4 1114.8L1179.3 1115.4L1181.3 1116.0L1183.2 1116.7L1185.2 1117.3L1187.1 1118.0L1189.1 1118.7L1191.0 1119.4L1193.0 1120.1L1194.9 1120.8L1196.9 1121.5L1198.8 1122.3L1200.8 1123.1L1202.7 1123.8L1204.6 1124.6L1206.6 1125.4L1208.5 1126.2L1210.5 1127.1L1212.4 1127.9L1214.4 1128.8L1216.3 1129.7L1218.0 1130.5L1219.7 1131.3L1221.4 1132.1L1223.2 1133.0L1224.9 1133.9L1226.6 1134.8L1228.3 1135.7L1230.0 1136.6L1231.7 1137.6L1233.4 1138.5L1235.1 1139.5L1236.8 1140.5L1238.5 1141.5L1240.2 1142.6L1241.9 1143.6L1243.6 1144.7L1245.3 1145.8L1247.0 1146.9L1248.7 1148.0L1250.4 1149.1L1252.1 1150.2L1253.8 1151.4L1255.5 1152.5L1257.2 1153.7L1258.9 1154.9L1260.6 1156.0L1262.3 1157.2L1264.0 1158.4L1265.8 1159.6L1267.5 1160.8L1269.2 1162.0L1270.9 1163.1L1272.6 1164.3L1274.3 1165.4L1276.0 1166.6L1277.7 1167.7L1279.4 1168.8L1281.1 1169.9L1282.8 1171.0L1284.5 1172.1L1286.2 1173.1L1287.9 1174.2L1289.6 1175.2L1291.3 1176.2L1293.0 1177.1L1294.7 1178.1L1296.4 1179.0L1298.1 1179.9L1299.8 1180.8L1301.5 1181.7L1303.2 1182.5L1304.9 1183.3L1306.7 1184.1L1308.4 1184.9L1310.1 1185.6L1311.8 1186.3L1313.8 1187.1L1315.8 1187.9L1317.7 1188.7L1319.7 1189.4L1321.7 1190.1L1323.6 1190.7L1325.4 1191.4L1327.4 1192.0L1329.4 1192.6L1331.3 1193.2L1333.2 1193.8L1335.1 1194.3L1337.0 1194.8L1338.9 1195.3L1340.8 1195.8L1342.6 1196.2L1344.6 1196.7L1346.6 1197.1L1348.8 1197.6L1350.6 1197.9L1352.5 1198.3L1354.4 1198.6L1356.4 1199.0L1358.4 1199.3L1360.5 1199.7L1362.5 1200.0L1364.5 1200.3L1366.5 1200.5L1368.4 1200.8L1370.4 1201.0L1372.3 1201.2L1374.3 1201.4L1376.3 1201.6L1378.2 1201.8L1380.2 1202.0L1382.1 1202.1L1383.8 1202.2L1385.4 1202.4L1387.1 1202.5L1388.9 1202.6L1391.0 1202.7L1393.3 1202.8L1396.0 1202.9L1397.5 1202.9L1399.2 1203.0L1400.9 1203.0L1402.7 1203.1L1404.6 1203.1L1406.6 1203.2L1408.6 1203.2L1410.6 1203.3L1412.7 1203.3L1414.9 1203.4L1417.0 1203.4L1419.1 1203.5L1421.2 1203.5L1423.3 1203.6L1425.4 1203.6L1427.4 1203.7L1429.2 1203.7L1430.7 1203.8L1431.9 1203.8L1432.9 1203.8L1433.9 1203.9L1434.8 1203.9L1435.8 1204.0L1436.9 1204.0L1438.2 1204.0L1439.9 1204.1L1441.8 1204.1L1444.3 1204.1L1447.2 1204.1L1450.8 1204.2L1455.0 1204.2L1460.0 1204.2L1461.3 1204.2L1462.6 1204.2L1463.9 1204.2L1465.3 1204.2L1466.8 1204.2L1468.2 1204.2L1469.8 1204.2L1471.3 1204.2L1472.9 1204.2L1474.6 1204.2L1476.3 1204.2L1478.0 1204.2L1479.7 1204.2L1481.5 1204.2L1483.3 1204.2L1485.2 1204.2L1487.1 1204.2L1489.0 1204.2L1490.9 1204.2L1492.9 1204.2L1494.9 1204.2L1496.9 1204.2L1499.0 1204.2L1501.0 1204.2L1503.1 1204.2L1505.2 1204.2L1507.3 1204.2L1509.5 1204.2L1511.6 1204.2L1513.8 1204.2L1516.0 1204.2L1518.2 1204.2L1520.4 1204.2L1522.6 1204.2L1524.8 1204.2L1527.1 1204.2L1529.3 1204.2L1531.6 1204.2L1533.9 1204.2L1536.1 1204.2L1538.4 1204.2L1540.6 1204.2L1542.9 1204.2L1545.2 1204.2L1547.4 1204.2L1549.7 1204.2L1552.0 1204.2L1554.2 1204.2L1556.5 1204.2L1558.7 1204.2L1560.9 1204.2L1563.1 1204.2L1565.3 1204.2L1567.5 1204.2L1569.7 1204.2L1571.9 1204.2L1574.0 1204.2L1576.2 1204.2L1578.3 1204.2L1580.4 1204.2L1582.4 1204.2L1584.5 1204.2L1586.5 1204.2L1588.5 1204.2L1590.5 1204.2L1592.5 1204.2L1594.4 1204.2L1596.3 1204.2L1598.2 1204.2L1600.0 1204.2L1602.2 1204.2L1604.4 1204.2L1606.7 1204.2L1608.9 1204.2L1611.2 1204.2L1613.5 1204.2L1615.8 1204.2L1618.1 1204.2L1620.4 1204.2L1622.7 1204.2L1625.0 1204.2L1627.4 1204.2L1629.7 1204.2L1632.0 1204.2L1634.4 1204.2L1636.7 1204.2L1639.0 1204.2L1641.4 1204.2L1643.7 1204.2L1646.0 1204.2L1648.3 1204.2L1650.6 1204.2L1652.9 1204.2L1655.1 1204.2L1657.4 1204.2L1659.6 1204.2L1661.9 1204.2L1664.1 1204.2L1666.2 1204.2L1668.4 1204.2L1670.6 1204.2L1672.7 1204.2L1674.8 1204.2L1676.8 1204.2L1678.9 1204.2L1680.9 1204.2L1682.9 1204.2L1684.8 1204.2L1686.7 1204.2L1688.6 1204.2L1690.5 1204.2L1692.3 1204.2L1694.1 1204.2L1695.8 1204.2L1697.5 1204.2L1699.1 1204.2L1700.7 1204.2L1702.3 1204.2L1703.8 1204.2L1705.2 1204.2L1706.6 1204.2L1708.0 1204.2L1709.3 1204.2L1710.6 1204.2L1711.8 1204.2L1712.9 1204.2L1714.0 1204.2L1715.0 1204.2"/><path stroke="#ff0000" transform="translate(0.7 0)" d="M393.1 1154.9L394.6 1154.9L396.8 1154.8L399.2 1154.7L401.5 1154.4L403.5 1153.9L405.6 1153.2L407.5 1152.6L409.3 1152.3L411.3 1152.9L413.0 1154.1L415.1 1154.9L416.8 1155.0L418.7 1154.9L420.7 1154.8L422.7 1154.6L424.5 1154.4L426.5 1154.4L428.5 1154.4L430.3 1154.3L431.9 1153.9L433.9 1153.2L435.5 1152.0L437.1 1150.2L438.0 1148.7L438.8 1146.9L439.7 1145.0L440.5 1142.9L441.4 1140.8L442.0 1139.0L442.7 1137.1L443.3 1135.2L443.9 1133.2L444.5 1131.2L445.0 1129.2L445.5 1127.2L446.0 1125.2L446.5 1123.1L446.9 1121.0L447.3 1118.9L447.6 1116.6L448.0 1114.6L448.4 1112.5L448.7 1110.4L449.1 1108.3L449.5 1106.2L449.9 1104.1L450.3 1102.0L450.7 1100.0L451.0 1098.0L451.2 1096.1L451.5 1094.1L451.8 1092.2L452.0 1090.2L452.2 1088.3L452.5 1086.4L452.8 1084.5L453.1 1082.6L453.4 1080.7L453.7 1078.8L454.0 1076.8L454.4 1074.7L454.7 1072.8L455.0 1070.9L455.2 1068.9L455.4 1066.9L455.8 1064.8L456.2 1062.8L456.6 1060.7L457.0 1058.5L457.4 1056.5L457.9 1054.4L458.4 1052.2L458.8 1049.9L459.3 1047.7L459.7 1045.5L460.2 1043.5L460.6 1041.7L461.0 1040.0L461.5 1037.8L461.8 1036.2L462.0 1034.9L462.3 1033.3L462.7 1031.1L462.9 1029.5L463.2 1027.7L463.5 1025.8L463.8 1023.7L464.2 1021.6L464.6 1019.4L465.0 1017.3L465.3 1015.2L465.6 1013.3L466.0 1011.2L466.4 1009.2L466.9 1007.1L467.3 1005.2L467.8 1003.2L468.4 1001.3L469.0 999.4L469.6 997.5L470.0 995.6L470.4 993.8L470.9 991.9L471.4 990.0L471.9 988.2L472.2 986.4L472.8 984.6L473.3 982.8L474.2 980.9L475.2 979.0L476.0 977.0L476.6 975.1L477.2 973.1L477.9 971.2L478.5 969.3L478.9 967.3L479.4 965.4L480.0 963.5L480.7 961.7L481.5 960.0L482.2 958.3L482.8 956.5L483.5 954.5L484.1 952.4L484.6 950.3L485.2 948.4L485.9 946.6L486.5 945.0L487.7 942.6L488.8 940.7L490.2 939.1L491.9 938.0L493.7 937.3L495.4 936.4L497.0 934.8L498.3 932.9L499.7 930.9L500.9 929.6L502.1 928.3L503.5 927.2L504.9 926.1L506.4 925.0L507.9 924.0L509.5 923.0L511.2 922.2L513.1 921.6L515.1 921.0L517.0 920.7L518.8 920.9L520.6 922.1L521.9 923.8L523.3 925.9L524.3 927.4L525.2 929.1L526.0 931.1L526.8 933.0L527.8 934.8L528.7 936.4L529.5 938.0L530.4 939.7L531.2 941.4L532.2 943.1L533.2 944.9L534.4 946.7L535.6 948.5L536.9 950.4L537.9 952.2L538.6 954.2L539.2 956.1L539.7 958.0L540.3 959.9L541.0 961.7L542.0 963.6L543.0 965.5L544.0 967.4L545.0 969.3L546.1 971.2L547.2 973.1L548.4 974.9L549.6 976.8L550.6 978.7L551.5 980.7L552.3 982.6L553.1 984.5L553.9 986.3L554.8 988.2L555.7 990.1L556.7 991.9L557.7 993.8L558.8 995.7L559.8 997.6L560.6 999.6L561.4 1001.6L562.2 1003.5L563.1 1005.3L564.0 1007.2L564.8 1009.1L565.8 1011.0L566.7 1012.9L567.7 1014.9L568.7 1016.8L569.7 1018.6L570.6 1020.2L571.4 1021.8L572.1 1023.4L572.8 1025.0L573.6 1026.8L574.2 1028.4L574.7 1030.1L575.2 1031.9L575.8 1033.7L576.4 1035.6L577.3 1037.5L578.2 1039.2L578.9 1041.0L579.7 1042.9L580.6 1044.7L581.4 1046.7L582.2 1048.6L582.9 1050.6L583.5 1052.4L584.3 1054.1L585.1 1055.8L586.0 1057.5L586.9 1059.3L587.8 1061.0L588.6 1062.7L589.4 1064.4L590.4 1066.2L591.5 1068.0L592.7 1069.7L593.9 1071.4L595.0 1073.1L595.9 1074.9L596.9 1076.6L598.1 1078.5L599.5 1080.2L600.9 1081.8L602.3 1083.5L603.4 1085.1L604.6 1086.7L605.9 1088.6L607.3 1090.3L608.6 1091.9L610.0 1093.4L611.3 1094.9L612.7 1096.3L614.1 1097.8L615.4 1099.1L616.8 1100.4L618.1 1101.7L619.7 1103.2L621.4 1104.5L623.1 1105.6L624.9 1106.6L626.6 1107.4L628.3 1108.1L630.0 1108.6L631.7 1109.1L633.4 1109.6L635.2 1110.1L636.9 1110.6L638.6 1110.9L640.9 1111.1L643.2 1111.1L645.4 1110.9L647.4 1110.6L649.5 1110.2L652.0 1109.3L653.6 1108.7L655.4 1107.9L657.3 1107.0L659.3 1106.1L661.4 1105.2L663.4 1104.2L665.1 1103.4L666.9 1102.5L668.7 1101.6L670.5 1100.6L672.4 1099.7L674.2 1098.8L676.0 1097.9L677.8 1097.0L679.6 1096.2L681.4 1095.3L683.1 1094.5L684.9 1093.6L686.7 1092.8L688.5 1092.0L690.3 1091.2L692.1 1090.4L693.9 1089.6L695.7 1088.8L697.5 1088.1L699.3 1087.4L701.1 1086.7L702.9 1086.1L704.7 1085.5L706.4 1084.9L708.2 1084.4L710.0 1083.8L711.8 1083.4L713.7 1082.9L715.6 1082.5L717.6 1082.2L719.7 1081.9L721.7 1081.6L723.8 1081.3L725.9 1081.2L727.9 1081.0L729.9 1081.0L732.0 1081.0L734.0 1081.1L736.1 1081.2L738.1 1081.3L740.1 1081.5L742.0 1081.8L744.2 1082.1L746.3 1082.6L748.4 1083.0L750.5 1083.6L752.5 1084.2L754.6 1084.9L756.4 1085.5L758.2 1086.2L760.0 1086.9L761.8 1087.7L763.6 1088.5L765.4 1089.4L767.2 1090.3L769.0 1091.2L770.8 1092.2L772.6 1093.2L774.4 1094.3L776.2 1095.3L778.0 1096.4L779.8 1097.6L781.4 1098.6L782.9 1099.6L784.5 1100.6L786.1 1101.7L787.7 1102.8L789.2 1103.9L790.8 1105.0L792.4 1106.1L794.0 1107.2L795.6 1108.3L797.1 1109.5L798.7 1110.6L800.3 1111.8L801.9 1112.9L803.4 1114.1L805.0 1115.2L806.6 1116.4L808.1 1117.6L809.7 1118.7L811.2 1119.9L812.8 1121.0L814.4 1122.2L815.9 1123.3L817.5 1124.5L819.1 1125.6L820.6 1126.7L822.2 1127.9L823.8 1129.0L825.4 1130.1L826.9 1131.2L828.5 1132.3L830.1 1133.3L831.9 1134.5L833.7 1135.7L835.5 1136.8L837.3 1137.9L839.1 1139.0L840.9 1140.1L842.7 1141.1L844.5 1142.1L846.3 1143.1L848.1 1144.0L849.9 1144.9L851.7 1145.8L853.5 1146.6L855.3 1147.5L857.1 1148.3L858.9 1149.0L860.7 1149.8L862.5 1150.5L864.3 1151.2L866.1 1151.8L867.9 1152.4L869.9 1153.1L871.8 1153.7L873.8 1154.3L875.7 1154.8L877.8 1155.4L880.0 1155.9L881.8 1156.3L883.7 1156.7L885.6 1157.0L887.6 1157.4L889.6 1157.7L891.7 1158.0L893.7 1158.3L895.7 1158.6L897.7 1158.8L899.6 1159.0L901.6 1159.1L903.6 1159.3L905.6 1159.4L907.6 1159.4L909.5 1159.5L911.5 1159.5L913.5 1159.5L915.4 1159.5L917.4 1159.4L919.4 1159.4L921.3 1159.2L923.3 1159.1L925.2 1159.0L927.2 1158.8L929.2 1158.6L931.1 1158.4L933.1 1158.2L935.0 1157.9L937.0 1157.6L939.0 1157.3L940.9 1157.0L942.9 1156.7L944.9 1156.3L946.8 1156.0L948.8 1155.6L950.8 1155.2L952.8 1154.8L954.8 1154.3L956.7 1153.9L958.7 1153.4L960.7 1153.0L962.6 1152.5L964.6 1152.0L966.6 1151.5L968.5 1151.0L970.5 1150.4L972.4 1149.9L974.4 1149.3L976.4 1148.8L978.3 1148.2L980.3 1147.6L982.2 1147.0L984.2 1146.4L986.2 1145.8L988.1 1145.2L990.1 1144.6L992.1 1144.0L994.0 1143.3L996.0 1142.7L997.9 1142.0L999.9 1141.4L1001.9 1140.7L1003.8 1140.0L1005.8 1139.4L1007.8 1138.7L1009.7 1138.0L1011.7 1137.3L1013.7 1136.6L1015.7 1135.9L1017.7 1135.3L1019.6 1134.6L1021.6 1133.9L1023.6 1133.2L1025.5 1132.5L1027.5 1131.8L1029.5 1131.1L1031.4 1130.4L1033.4 1129.7L1035.3 1129.0L1037.3 1128.4L1039.3 1127.7L1041.2 1127.0L1043.2 1126.4L1045.1 1125.7L1047.1 1125.1L1049.1 1124.4L1051.0 1123.8L1053.0 1123.2L1055.0 1122.5L1056.9 1121.9L1058.9 1121.3L1060.9 1120.7L1062.9 1120.1L1064.9 1119.6L1066.8 1119.0L1068.8 1118.4L1070.8 1117.9L1072.7 1117.4L1074.7 1116.8L1076.7 1116.3L1078.6 1115.8L1080.6 1115.3L1082.5 1114.8L1084.5 1114.3L1086.5 1113.9L1088.4 1113.4L1090.4 1113.0L1092.3 1112.6L1094.3 1112.2L1096.3 1111.8L1098.2 1111.4L1100.2 1111.0L1102.2 1110.7L1104.1 1110.3L1106.1 1110.0L1108.1 1109.7L1110.1 1109.4L1112.1 1109.2L1114.0 1108.9L1116.0 1108.7L1118.0 1108.5L1119.9 1108.4L1121.9 1108.2L1123.9 1108.1L1125.8 1108.0L1127.8 1107.9L1129.7 1107.8L1131.7 1107.8L1133.7 1107.8L1135.7 1107.8L1137.6 1107.9L1139.6 1108.0L1141.6 1108.1L1143.6 1108.2L1145.5 1108.3L1147.4 1108.5L1149.5 1108.8L1151.6 1109.0L1153.7 1109.3L1155.8 1109.6L1157.8 1110.0L1159.8 1110.4L1161.8 1110.8L1163.8 1111.2L1165.7 1111.6L1167.7 1112.1L1169.6 1112.6L1171.5 1113.1L1173.5 1113.7L1175.4 1114.2L1177.4 1114.8L1179.3 1115.4L1181.3 1116.0L1183.2 1116.7L1185.2 1117.3L1187.1 1118.0L1189.1 1118.7L1191.0 1119.4L1193.0 1120.1L1194.9 1120.8L1196.9 1121.5L1198.8 1122.3L1200.8 1123.1L1202.7 1123.8L1204.6 1124.6L1206.6 1125.4L1208.5 1126.2L1210.5 1127.1L1212.4 1127.9L1214.4 1128.8L1216.3 1129.7L1218.0 1130.5L1219.7 1131.3L1221.4 1132.1L1223.2 1133.0L1224.9 1133.9L1226.6 1134.8L1228.3 1135.7L1230.0 1136.6L1231.7 1137.6L1233.4 1138.5L1235.1 1139.5L1236.8 1140.5L1238.5 1141.5L1240.2 1142.6L1241.9 1143.6L1243.6 1144.7L1245.3 1145.8L1247.0 1146.9L1248.7 1148.0L1250.4 1149.1L1252.1 1150.2L1253.8 1151.4L1255.5 1152.5L1257.2 1153.7L1258.9 1154.9L1260.6 1156.0L1262.3 1157.2L1264.0 1158.4L1265.8 1159.6L1267.5 1160.8L1269.2 1162.0L1270.9 1163.1L1272.6 1164.3L1274.3 1165.4L1276.0 1166.6L1277.7 1167.7L1279.4 1168.8L1281.1 1169.9L1282.8 1171.0L1284.5 1172.1L1286.2 1173.1L1287.9 1174.2L1289.6 1175.2L1291.3 1176.2L1293.0 1177.1L1294.7 1178.1L1296.4 1179.0L1298.1 1179.9L1299.8 1180.8L1301.5 1181.7L1303.2 1182.5L1304.9 1183.3L1306.7 1184.1L1308.4 1184.9L1310.1 1185.6L1311.8 1186.3L1313.8 1187.1L1315.8 1187.9L1317.7 1188.7L1319.7 1189.4L1321.7 1190.1L1323.6 1190.7L1325.4 1191.4L1327.4 1192.0L1329.4 1192.6L1331.3 1193.2L1333.2 1193.8L1335.1 1194.3L1337.0 1194.8L1338.9 1195.3L1340.8 1195.8L1342.6 1196.2L1344.6 1196.7L1346.6 1197.1L1348.8 1197.6L1350.6 1197.9L1352.5 1198.3L1354.4 1198.6L1356.4 1199.0L1358.4 1199.3L1360.5 1199.7L1362.5 1200.0L1364.5 1200.3L1366.5 1200.5L1368.4 1200.8L1370.4 1201.0L1372.3 1201.2L1374.3 1201.4L1376.3 1201.6L1378.2 1201.8L1380.2 1202.0L1382.1 1202.1L1383.8 1202.2L1385.4 1202.4L1387.1 1202.5L1388.9 1202.6L1391.0 1202.7L1393.3 1202.8L1396.0 1202.9L1397.5 1202.9L1399.2 1203.0L1400.9 1203.0L1402.7 1203.1L1404.6 1203.1L1406.6 1203.2L1408.6 1203.2L1410.6 1203.3L1412.7 1203.3L1414.9 1203.4L1417.0 1203.4L1419.1 1203.5L1421.2 1203.5L1423.3 1203.6L1425.4 1203.6L1427.4 1203.7L1429.2 1203.7L1430.7 1203.8L1431.9 1203.8L1432.9 1203.8L1433.9 1203.9L1434.8 1203.9L1435.8 1204.0L1436.9 1204.0L1438.2 1204.0L1439.9 1204.1L1441.8 1204.1L1444.3 1204.1L1447.2 1204.1L1450.8 1204.2L1455.0 1204.2L1460.0 1204.2L1461.3 1204.2L1462.6 1204.2L1463.9 1204.2L1465.3 1204.2L1466.8 1204.2L1468.2 1204.2L1469.8 1204.2L1471.3 1204.2L1472.9 1204.2L1474.6 1204.2L1476.3 1204.2L1478.0 1204.2L1479.7 1204.2L1481.5 1204.2L1483.3 1204.2L1485.2 1204.2L1487.1 1204.2L1489.0 1204.2L1490.9 1204.2L1492.9 1204.2L1494.9 1204.2L1496.9 1204.2L1499.0 1204.2L1501.0 1204.2L1503.1 1204.2L1505.2 1204.2L1507.3 1204.2L1509.5 1204.2L1511.6 1204.2L1513.8 1204.2L1516.0 1204.2L1518.2 1204.2L1520.4 1204.2L1522.6 1204.2L1524.8 1204.2L1527.1 1204.2L1529.3 1204.2L1531.6 1204.2L1533.9 1204.2L1536.1 1204.2L1538.4 1204.2L1540.6 1204.2L1542.9 1204.2L1545.2 1204.2L1547.4 1204.2L1549.7 1204.2L1552.0 1204.2L1554.2 1204.2L1556.5 1204.2L1558.7 1204.2L1560.9 1204.2L1563.1 1204.2L1565.3 1204.2L1567.5 1204.2L1569.7 1204.2L1571.9 1204.2L1574.0 1204.2L1576.2 1204.2L1578.3 1204.2L1580.4 1204.2L1582.4 1204.2L1584.5 1204.2L1586.5 1204.2L1588.5 1204.2L1590.5 1204.2L1592.5 1204.2L1594.4 1204.2L1596.3 1204.2L1598.2 1204.2L1600.0 1204.2L1602.2 1204.2L1604.4 1204.2L1606.7 1204.2L1608.9 1204.2L1611.2 1204.2L1613.5 1204.2L1615.8 1204.2L1618.1 1204.2L1620.4 1204.2L1622.7 1204.2L1625.0 1204.2L1627.4 1204.2L1629.7 1204.2L1632.0 1204.2L1634.4 1204.2L1636.7 1204.2L1639.0 1204.2L1641.4 1204.2L1643.7 1204.2L1646.0 1204.2L1648.3 1204.2L1650.6 1204.2L1652.9 1204.2L1655.1 1204.2L1657.4 1204.2L1659.6 1204.2L1661.9 1204.2L1664.1 1204.2L1666.2 1204.2L1668.4 1204.2L1670.6 1204.2L1672.7 1204.2L1674.8 1204.2L1676.8 1204.2L1678.9 1204.2L1680.9 1204.2L1682.9 1204.2L1684.8 1204.2L1686.7 1204.2L1688.6 1204.2L1690.5 1204.2L1692.3 1204.2L1694.1 1204.2L1695.8 1204.2L1697.5 1204.2L1699.1 1204.2L1700.7 1204.2L1702.3 1204.2L1703.8 1204.2L1705.2 1204.2L1706.6 1204.2L1708.0 1204.2L1709.3 1204.2L1710.6 1204.2L1711.8 1204.2L1712.9 1204.2L1714.0 1204.2L1715.0 1204.2"/><path stroke="#ff0000" stroke-width="9.6" d="M445.0 1129.2L445.5 1127.2L446.0 1125.2L446.5 1123.1L446.9 1121.0L447.3 1118.9L447.6 1116.6L448.0 1114.6L448.4 1112.5L448.7 1110.4L449.1 1108.3L449.5 1106.2L449.9 1104.1L450.3 1102.0L450.7 1100.0L451.0 1098.0L451.2 1096.1L451.5 1094.1L451.8 1092.2L452.0 1090.2L452.2 1088.3L452.5 1086.4L452.8 1084.5L453.1 1082.6L453.4 1080.7L453.7 1078.8L454.0 1076.8L454.4 1074.7L454.7 1072.8L455.0 1070.9L455.2 1068.9L455.4 1066.9L455.8 1064.8L456.2 1062.8L456.6 1060.7L457.0 1058.5L457.4 1056.5L457.9 1054.4L458.4 1052.2L458.8 1049.9L459.3 1047.7L459.7 1045.5L460.2 1043.5L460.6 1041.7L461.0 1040.0L461.5 1037.8L461.8 1036.2L462.0 1034.9L462.3 1033.3L462.7 1031.1L462.9 1029.5L463.2 1027.7L463.5 1025.8L463.8 1023.7L464.2 1021.6L464.6 1019.4L465.0 1017.3L465.3 1015.2L465.6 1013.3L466.0 1011.2L466.4 1009.2L466.9 1007.1L467.3 1005.2L467.8 1003.2L468.4 1001.3L469.0 999.4L469.6 997.5L470.0 995.6L470.4 993.8L470.9 991.9L471.4 990.0L471.9 988.2L472.2 986.4L472.8 984.6L473.3 982.8L474.2 980.9L475.2 979.0L476.0 977.0L476.6 975.1L477.2 973.1L477.9 971.2L478.5 969.3L478.9 967.3L479.4 965.4L480.0 963.5L480.7 961.7L481.5 960.0L482.2 958.3L482.8 956.5L483.5 954.5L484.1 952.4L484.6 950.3L485.2 948.4L485.9 946.6L486.5 945.0L487.7 942.6L488.8 940.7L490.2 939.1L491.9 938.0L493.7 937.3L495.4 936.4L497.0 934.8L498.3 932.9L499.7 930.9L500.9 929.6L502.1 928.3L503.5 927.2L504.9 926.1L506.4 925.0L507.9 924.0L509.5 923.0L511.2 922.2L513.1 921.6L515.1 921.0L517.0 920.7L518.8 920.9L520.6 922.1L521.9 923.8L523.3 925.9L524.3 927.4L525.2 929.1L526.0 931.1L526.8 933.0L527.8 934.8L528.7 936.4L529.5 938.0L530.4 939.7L531.2 941.4L532.2 943.1L533.2 944.9L534.4 946.7L535.6 948.5L536.9 950.4L537.9 952.2L538.6 954.2L539.2 956.1L539.7 958.0L540.3 959.9L541.0 961.7L542.0 963.6L543.0 965.5L544.0 967.4L545.0 969.3L546.1 971.2L547.2 973.1L548.4 974.9L549.6 976.8L550.6 978.7L551.5 980.7L552.3 982.6L553.1 984.5L553.9 986.3L554.8 988.2L555.7 990.1L556.7 991.9L557.7 993.8L558.8 995.7"/></g><g fill="#000" shape-rendering="crispEdges"><rect x="139.0" y="40.0" width="1737.1" height="6.8"/><rect x="139.0" y="385.8" width="1737.1" height="6.4"/><rect x="139.0" y="40.0" width="6.0" height="378.0"/><rect x="1869.0" y="40.0" width="7.0" height="378.0"/><rect x="296.3" y="389.0" width="6" height="29.0"/><rect x="453.6" y="389.0" width="6" height="29.0"/><rect x="610.9" y="389.0" width="6" height="29.0"/><rect x="768.2" y="389.0" width="6" height="29.0"/><rect x="925.5" y="389.0" width="6" height="29.0"/><rect x="1082.8" y="389.0" width="6" height="29.0"/><rect x="1240.1" y="389.0" width="6" height="29.0"/><rect x="1397.4" y="389.0" width="6" height="29.0"/><rect x="1554.7" y="389.0" width="6" height="29.0"/><rect x="1712.0" y="389.0" width="6" height="29.0"/><rect x="139.0" y="467.6" width="1737.1" height="6.8"/><rect x="139.0" y="813.3" width="1737.1" height="6.4"/><rect x="139.0" y="467.6" width="6.0" height="377.4"/><rect x="1869.0" y="467.6" width="7.0" height="377.4"/><rect x="296.3" y="816.5" width="6" height="28.5"/><rect x="453.6" y="816.5" width="6" height="28.5"/><rect x="610.9" y="816.5" width="6" height="28.5"/><rect x="768.2" y="816.5" width="6" height="28.5"/><rect x="925.5" y="816.5" width="6" height="28.5"/><rect x="1082.8" y="816.5" width="6" height="28.5"/><rect x="1240.1" y="816.5" width="6" height="28.5"/><rect x="1397.4" y="816.5" width="6" height="28.5"/><rect x="1554.7" y="816.5" width="6" height="28.5"/><rect x="1712.0" y="816.5" width="6" height="28.5"/><rect x="139.0" y="894.6" width="1737.1" height="6.8"/><rect x="139.0" y="1240.4" width="1737.1" height="6.4"/><rect x="139.0" y="894.6" width="6.0" height="377.4"/><rect x="1869.0" y="894.6" width="7.0" height="377.4"/><rect x="296.3" y="1243.6" width="6" height="28.4"/><rect x="453.6" y="1243.6" width="6" height="28.4"/><rect x="610.9" y="1243.6" width="6" height="28.4"/><rect x="768.2" y="1243.6" width="6" height="28.4"/><rect x="925.5" y="1243.6" width="6" height="28.4"/><rect x="1082.8" y="1243.6" width="6" height="28.4"/><rect x="1240.1" y="1243.6" width="6" height="28.4"/><rect x="1397.4" y="1243.6" width="6" height="28.4"/><rect x="1554.7" y="1243.6" width="6" height="28.4"/><rect x="1712.0" y="1243.6" width="6" height="28.4"/></g><g font-family="'Liberation Serif','Times New Roman',Times,serif" fill="#000" style="font-kerning:none"><text transform="translate(143.2 1355.4) scale(0.9870 1)" font-size="83.5" text-anchor="middle">150</text><text transform="translate(455.1 1355.4) scale(0.9870 1)" font-size="83.5" text-anchor="middle">200</text><text transform="translate(769.8 1355.4) scale(0.9870 1)" font-size="83.5" text-anchor="middle">250</text><text transform="translate(1086.0 1355.4) scale(0.9870 1)" font-size="83.5" text-anchor="middle">300</text><text transform="translate(1400.0 1355.4) scale(0.9870 1)" font-size="83.5" text-anchor="middle">350</text><text transform="translate(1714.6 1355.4) scale(0.9870 1)" font-size="83.5" text-anchor="middle">400</text><text transform="translate(964.5 1431.3) scale(0.9717 1)" font-size="82.5" text-anchor="middle">Wavelength (nm)</text><text transform="translate(87.6 586) rotate(-90)" font-size="83" text-anchor="middle">Absorbance</text><text x="173.5" y="181.7" font-size="93.5" font-weight="bold">a</text><text x="168" y="547.3" font-size="80" font-weight="bold">b</text><text x="171.5" y="984" font-size="81" font-weight="bold">c</text><rect x="1183.5" y="524.5" width="644" height="148" fill="#fff" stroke="#000" stroke-width="1.2"/><g fill="none" stroke-linecap="round" stroke-width="9.4"><path stroke="#000" d="M1207.5 561.4H1244.3M1293.7 561.4H1330.6"/><path stroke="#ff0000" d="M1207.5 636.4H1331.5"/></g><text transform="translate(1345.5 585.0) scale(0.9930 1)" font-size="61.0" text-anchor="start">Geometric addition</text><text x="1346" y="659" font-size="61">Mixture</text></g></svg></body></html>
